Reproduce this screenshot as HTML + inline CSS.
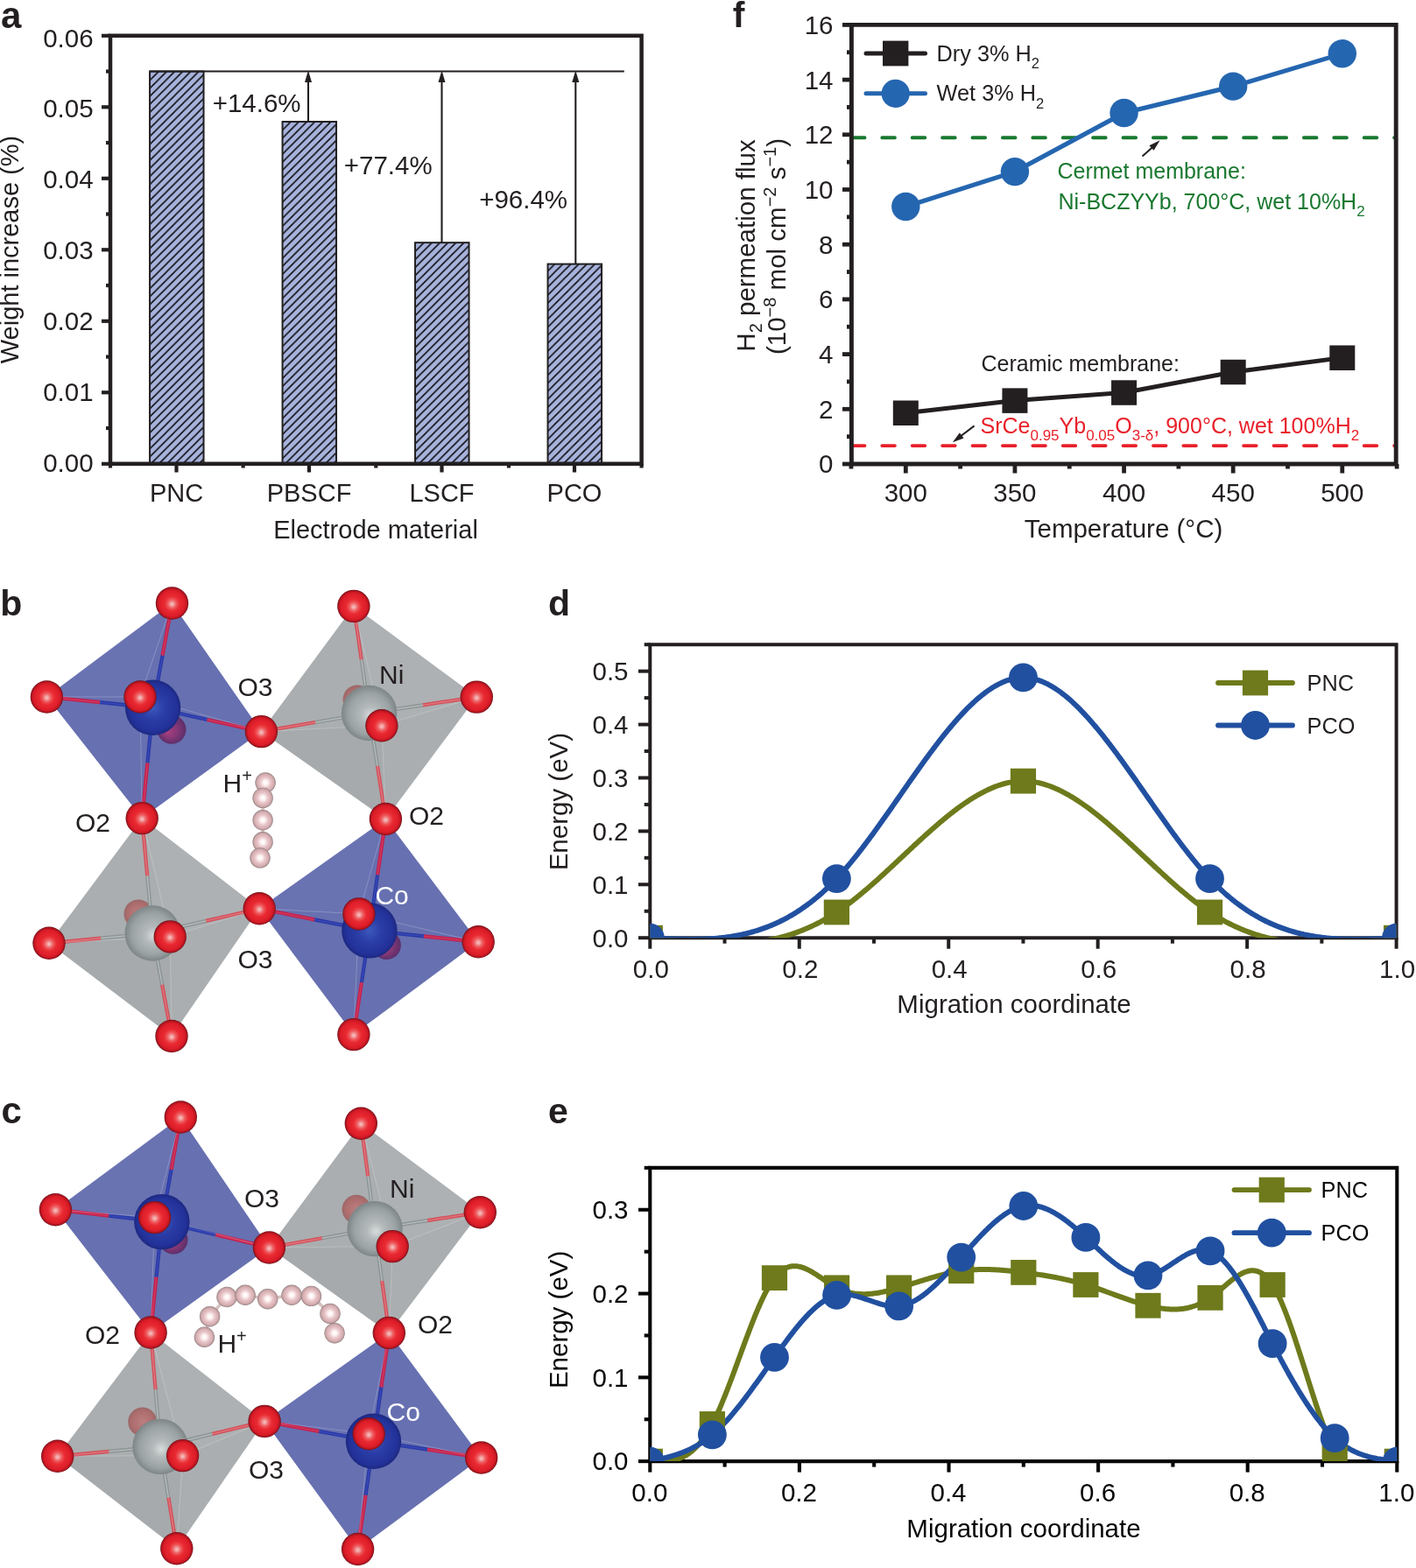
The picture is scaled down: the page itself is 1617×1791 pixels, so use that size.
<!DOCTYPE html><html><head><meta charset="utf-8"><style>html,body{margin:0;padding:0;background:#fff;}svg{display:block;}text{font-family:'Liberation Sans', Arial, Helvetica, sans-serif;}</style></head><body>
<svg width="1617" height="1791" viewBox="0 0 1617 1791">
<rect width="1617" height="1791" fill="#fff"/>
<defs>
<pattern id="hatch0" patternUnits="userSpaceOnUse" x="6.65" y="0" width="9.15" height="9.15"><rect width="9.15" height="9.15" fill="#a7b3dd"/><path d="M-2,11.15 L11.15,-2 M-2,2 L2,-2 M7.15,11.15 L11.15,7.15" stroke="#0a0a0a" stroke-width="1.5"/></pattern>
<pattern id="hatch1" patternUnits="userSpaceOnUse" x="4.50" y="0" width="9.15" height="9.15"><rect width="9.15" height="9.15" fill="#a7b3dd"/><path d="M-2,11.15 L11.15,-2 M-2,2 L2,-2 M7.15,11.15 L11.15,7.15" stroke="#0a0a0a" stroke-width="1.5"/></pattern>
<pattern id="hatch2" patternUnits="userSpaceOnUse" x="1.85" y="0" width="9.15" height="9.15"><rect width="9.15" height="9.15" fill="#a7b3dd"/><path d="M-2,11.15 L11.15,-2 M-2,2 L2,-2 M7.15,11.15 L11.15,7.15" stroke="#0a0a0a" stroke-width="1.5"/></pattern>
<pattern id="hatch3" patternUnits="userSpaceOnUse" x="1.85" y="0" width="9.15" height="9.15"><rect width="9.15" height="9.15" fill="#a7b3dd"/><path d="M-2,11.15 L11.15,-2 M-2,2 L2,-2 M7.15,11.15 L11.15,7.15" stroke="#0a0a0a" stroke-width="1.5"/></pattern>
<marker id="ah" markerWidth="10" markerHeight="14" refX="5" refY="1" orient="auto" markerUnits="userSpaceOnUse"><path d="M5,0 L9.5,13 L0.5,13 Z" fill="#231f20"/></marker>
</defs>
<rect x="171.05" y="81.55" width="61.50" height="448.25" fill="url(#hatch0)" stroke="#231f20" stroke-width="2.0"/>
<rect x="322.55" y="139.01" width="61.50" height="390.79" fill="url(#hatch1)" stroke="#231f20" stroke-width="2.0"/>
<rect x="474.05" y="277.15" width="61.50" height="252.65" fill="url(#hatch2)" stroke="#231f20" stroke-width="2.0"/>
<rect x="625.55" y="301.60" width="61.50" height="228.20" fill="url(#hatch3)" stroke="#231f20" stroke-width="2.0"/>
<line x1="171.00" y1="81.55" x2="712.80" y2="81.55" stroke="#231f20" stroke-width="2.0" />
<line x1="352.00" y1="139.01" x2="352.00" y2="92.55" stroke="#231f20" stroke-width="2.1" />
<path d="M352.00,80.55 L356.00,93.95 L348.00,93.95 Z" fill="#231f20"/>
<line x1="504.50" y1="277.15" x2="504.50" y2="92.55" stroke="#231f20" stroke-width="2.1" />
<path d="M504.50,80.55 L508.50,93.95 L500.50,93.95 Z" fill="#231f20"/>
<line x1="657.30" y1="301.60" x2="657.30" y2="92.55" stroke="#231f20" stroke-width="2.1" />
<path d="M657.30,80.55 L661.30,93.95 L653.30,93.95 Z" fill="#231f20"/>
<path d="M126.00,40.80 L126.00,529.80 L732.60,529.80 L732.60,40.80 Z" fill="none" stroke="#231f20" stroke-width="4.5" stroke-linejoin="miter"/>
<line x1="116.00" y1="529.80" x2="126.00" y2="529.80" stroke="#231f20" stroke-width="4.2" />
<text x="106.6" y="539.1" font-size="29.5" text-anchor="end" fill="#231f20" font-weight="normal" >0.00</text>
<line x1="116.00" y1="448.30" x2="126.00" y2="448.30" stroke="#231f20" stroke-width="4.2" />
<text x="106.6" y="458.2" font-size="29.5" text-anchor="end" fill="#231f20" font-weight="normal" >0.01</text>
<line x1="116.00" y1="366.80" x2="126.00" y2="366.80" stroke="#231f20" stroke-width="4.2" />
<text x="106.6" y="377.3" font-size="29.5" text-anchor="end" fill="#231f20" font-weight="normal" >0.02</text>
<line x1="116.00" y1="285.30" x2="126.00" y2="285.30" stroke="#231f20" stroke-width="4.2" />
<text x="106.6" y="296.3" font-size="29.5" text-anchor="end" fill="#231f20" font-weight="normal" >0.03</text>
<line x1="116.00" y1="203.80" x2="126.00" y2="203.80" stroke="#231f20" stroke-width="4.2" />
<text x="106.6" y="215.4" font-size="29.5" text-anchor="end" fill="#231f20" font-weight="normal" >0.04</text>
<line x1="116.00" y1="122.30" x2="126.00" y2="122.30" stroke="#231f20" stroke-width="4.2" />
<text x="106.6" y="134.4" font-size="29.5" text-anchor="end" fill="#231f20" font-weight="normal" >0.05</text>
<line x1="116.00" y1="40.80" x2="126.00" y2="40.80" stroke="#231f20" stroke-width="4.2" />
<text x="106.6" y="53.5" font-size="29.5" text-anchor="end" fill="#231f20" font-weight="normal" >0.06</text>
<line x1="121.00" y1="489.05" x2="126.00" y2="489.05" stroke="#231f20" stroke-width="4.2" />
<line x1="121.00" y1="407.55" x2="126.00" y2="407.55" stroke="#231f20" stroke-width="4.2" />
<line x1="121.00" y1="326.05" x2="126.00" y2="326.05" stroke="#231f20" stroke-width="4.2" />
<line x1="121.00" y1="244.55" x2="126.00" y2="244.55" stroke="#231f20" stroke-width="4.2" />
<line x1="121.00" y1="163.05" x2="126.00" y2="163.05" stroke="#231f20" stroke-width="4.2" />
<line x1="121.00" y1="81.55" x2="126.00" y2="81.55" stroke="#231f20" stroke-width="4.2" />
<line x1="201.50" y1="529.80" x2="201.50" y2="539.50" stroke="#231f20" stroke-width="4.2" />
<text x="201.5" y="572.6" font-size="29" text-anchor="middle" fill="#231f20" font-weight="normal" >PNC</text>
<line x1="353.00" y1="529.80" x2="353.00" y2="539.50" stroke="#231f20" stroke-width="4.2" />
<text x="353.0" y="572.6" font-size="29" text-anchor="middle" fill="#231f20" font-weight="normal" >PBSCF</text>
<line x1="504.50" y1="529.80" x2="504.50" y2="539.50" stroke="#231f20" stroke-width="4.2" />
<text x="504.5" y="572.6" font-size="29" text-anchor="middle" fill="#231f20" font-weight="normal" >LSCF</text>
<line x1="656.00" y1="529.80" x2="656.00" y2="539.50" stroke="#231f20" stroke-width="4.2" />
<text x="656.0" y="572.6" font-size="29" text-anchor="middle" fill="#231f20" font-weight="normal" >PCO</text>
<line x1="126.00" y1="529.80" x2="126.00" y2="534.50" stroke="#231f20" stroke-width="4.2" />
<line x1="277.65" y1="529.80" x2="277.65" y2="534.50" stroke="#231f20" stroke-width="4.2" />
<line x1="429.30" y1="529.80" x2="429.30" y2="534.50" stroke="#231f20" stroke-width="4.2" />
<line x1="580.95" y1="529.80" x2="580.95" y2="534.50" stroke="#231f20" stroke-width="4.2" />
<line x1="732.60" y1="529.80" x2="732.60" y2="534.50" stroke="#231f20" stroke-width="4.2" />
<text x="429.0" y="615.0" font-size="29" text-anchor="middle" fill="#231f20" font-weight="normal" >Electrode material</text>
<text x="1.0" y="31.8" font-size="42" text-anchor="start" fill="#231f20" font-weight="bold" >a</text>
<text transform="translate(21,285) rotate(-90)" font-size="29" text-anchor="middle" fill="#231f20">Weight increase (%)</text>
<text x="343.6" y="128.3" font-size="29.5" text-anchor="end" fill="#231f20" font-weight="normal" >+14.6%</text>
<text x="392.8" y="198.9" font-size="29.5" text-anchor="start" fill="#231f20" font-weight="normal" >+77.4%</text>
<text x="547.2" y="238.4" font-size="29.5" text-anchor="start" fill="#231f20" font-weight="normal" >+96.4%</text>
<line x1="972.9" y1="157.2" x2="1594.2" y2="157.2" stroke="#19782f" stroke-width="3.9" stroke-dasharray="14.6 19.8" stroke-linecap="round"/>
<line x1="972.9" y1="509.1" x2="1594.2" y2="509.1" stroke="#e8202a" stroke-width="3.8" stroke-dasharray="14.6 19.8" stroke-linecap="round"/>
<polyline points="1034.30,471.69 1158.92,457.58 1283.55,448.49 1408.17,424.98 1532.80,408.68" fill="none" stroke="#231f20" stroke-width="5.0"/>
<rect x="1019.80" y="457.49" width="29" height="28.5" fill="#231f20"/>
<rect x="1144.42" y="443.38" width="29" height="28.5" fill="#231f20"/>
<rect x="1269.05" y="434.29" width="29" height="28.5" fill="#231f20"/>
<rect x="1393.67" y="410.78" width="29" height="28.5" fill="#231f20"/>
<rect x="1518.30" y="394.48" width="29" height="28.5" fill="#231f20"/>
<polyline points="1034.30,235.94 1158.92,196.12 1283.55,129.03 1408.17,98.62 1532.80,61.32" fill="none" stroke="#2566b0" stroke-width="5.2"/>
<circle cx="1034.30" cy="235.94" r="16.2" fill="#2566b0"/>
<circle cx="1158.92" cy="196.12" r="16.2" fill="#2566b0"/>
<circle cx="1283.55" cy="129.03" r="16.2" fill="#2566b0"/>
<circle cx="1408.17" cy="98.62" r="16.2" fill="#2566b0"/>
<circle cx="1532.80" cy="61.32" r="16.2" fill="#2566b0"/>
<path d="M972.40,28.40 L972.40,530.00 L1594.20,530.00 L1594.20,28.40 Z" fill="none" stroke="#231f20" stroke-width="4.9"/>
<line x1="962.00" y1="530.00" x2="972.40" y2="530.00" stroke="#231f20" stroke-width="4.8" />
<text x="951.5" y="540.4" font-size="29.5" text-anchor="end" fill="#231f20" font-weight="normal" >0</text>
<line x1="962.00" y1="467.30" x2="972.40" y2="467.30" stroke="#231f20" stroke-width="4.8" />
<text x="951.5" y="477.7" font-size="29.5" text-anchor="end" fill="#231f20" font-weight="normal" >2</text>
<line x1="962.00" y1="404.60" x2="972.40" y2="404.60" stroke="#231f20" stroke-width="4.8" />
<text x="951.5" y="415.0" font-size="29.5" text-anchor="end" fill="#231f20" font-weight="normal" >4</text>
<line x1="962.00" y1="341.90" x2="972.40" y2="341.90" stroke="#231f20" stroke-width="4.8" />
<text x="951.5" y="352.3" font-size="29.5" text-anchor="end" fill="#231f20" font-weight="normal" >6</text>
<line x1="962.00" y1="279.20" x2="972.40" y2="279.20" stroke="#231f20" stroke-width="4.8" />
<text x="951.5" y="289.6" font-size="29.5" text-anchor="end" fill="#231f20" font-weight="normal" >8</text>
<line x1="962.00" y1="216.50" x2="972.40" y2="216.50" stroke="#231f20" stroke-width="4.8" />
<text x="951.5" y="226.9" font-size="29.5" text-anchor="end" fill="#231f20" font-weight="normal" >10</text>
<line x1="962.00" y1="153.80" x2="972.40" y2="153.80" stroke="#231f20" stroke-width="4.8" />
<text x="951.5" y="164.2" font-size="29.5" text-anchor="end" fill="#231f20" font-weight="normal" >12</text>
<line x1="962.00" y1="91.10" x2="972.40" y2="91.10" stroke="#231f20" stroke-width="4.8" />
<text x="951.5" y="101.5" font-size="29.5" text-anchor="end" fill="#231f20" font-weight="normal" >14</text>
<line x1="962.00" y1="28.40" x2="972.40" y2="28.40" stroke="#231f20" stroke-width="4.8" />
<text x="951.5" y="38.8" font-size="29.5" text-anchor="end" fill="#231f20" font-weight="normal" >16</text>
<line x1="967.00" y1="498.65" x2="972.40" y2="498.65" stroke="#231f20" stroke-width="4.8" />
<line x1="967.00" y1="435.95" x2="972.40" y2="435.95" stroke="#231f20" stroke-width="4.8" />
<line x1="967.00" y1="373.25" x2="972.40" y2="373.25" stroke="#231f20" stroke-width="4.8" />
<line x1="967.00" y1="310.55" x2="972.40" y2="310.55" stroke="#231f20" stroke-width="4.8" />
<line x1="967.00" y1="247.85" x2="972.40" y2="247.85" stroke="#231f20" stroke-width="4.8" />
<line x1="967.00" y1="185.15" x2="972.40" y2="185.15" stroke="#231f20" stroke-width="4.8" />
<line x1="967.00" y1="122.45" x2="972.40" y2="122.45" stroke="#231f20" stroke-width="4.8" />
<line x1="967.00" y1="59.75" x2="972.40" y2="59.75" stroke="#231f20" stroke-width="4.8" />
<line x1="1034.30" y1="530.00" x2="1034.30" y2="540.50" stroke="#231f20" stroke-width="4.8" />
<text x="1034.3" y="572.8" font-size="29.5" text-anchor="middle" fill="#231f20" font-weight="normal" >300</text>
<line x1="1158.92" y1="530.00" x2="1158.92" y2="540.50" stroke="#231f20" stroke-width="4.8" />
<text x="1158.9" y="572.8" font-size="29.5" text-anchor="middle" fill="#231f20" font-weight="normal" >350</text>
<line x1="1283.55" y1="530.00" x2="1283.55" y2="540.50" stroke="#231f20" stroke-width="4.8" />
<text x="1283.5" y="572.8" font-size="29.5" text-anchor="middle" fill="#231f20" font-weight="normal" >400</text>
<line x1="1408.17" y1="530.00" x2="1408.17" y2="540.50" stroke="#231f20" stroke-width="4.8" />
<text x="1408.2" y="572.8" font-size="29.5" text-anchor="middle" fill="#231f20" font-weight="normal" >450</text>
<line x1="1532.80" y1="530.00" x2="1532.80" y2="540.50" stroke="#231f20" stroke-width="4.8" />
<text x="1532.8" y="572.8" font-size="29.5" text-anchor="middle" fill="#231f20" font-weight="normal" >500</text>
<line x1="971.99" y1="530.00" x2="971.99" y2="535.50" stroke="#231f20" stroke-width="4.8" />
<line x1="1096.61" y1="530.00" x2="1096.61" y2="535.50" stroke="#231f20" stroke-width="4.8" />
<line x1="1221.24" y1="530.00" x2="1221.24" y2="535.50" stroke="#231f20" stroke-width="4.8" />
<line x1="1345.86" y1="530.00" x2="1345.86" y2="535.50" stroke="#231f20" stroke-width="4.8" />
<line x1="1470.49" y1="530.00" x2="1470.49" y2="535.50" stroke="#231f20" stroke-width="4.8" />
<line x1="1595.11" y1="530.00" x2="1595.11" y2="535.50" stroke="#231f20" stroke-width="4.8" />
<text x="1283.0" y="613.8" font-size="29.5" text-anchor="middle" fill="#231f20" font-weight="normal" >Temperature (°C)</text>
<text x="836.8" y="30.6" font-size="41" text-anchor="start" fill="#231f20" font-weight="bold" >f</text>
<text transform="translate(862,280.5) rotate(-90)" font-size="29.5" text-anchor="middle" fill="#231f20">H<tspan font-size="20" dy="8.2">2</tspan><tspan dy="-8.2"> permeation flux</tspan></text>
<text transform="translate(897,281.5) rotate(-90)" font-size="29.5" text-anchor="middle" fill="#231f20">(10<tspan font-size="20" dy="-11">−8</tspan><tspan dy="11"> mol cm</tspan><tspan font-size="20" dy="-11">−2</tspan><tspan dy="11"> s</tspan><tspan font-size="20" dy="-11">−1</tspan><tspan dy="11">)</tspan></text>
<line x1="989.00" y1="61.00" x2="1056.50" y2="61.00" stroke="#231f20" stroke-width="5.0" stroke-linecap="round"/>
<rect x="1008" y="46.6" width="29.4" height="28.8" fill="#231f20"/>
<line x1="989.00" y1="106.80" x2="1056.50" y2="106.80" stroke="#2566b0" stroke-width="5.0" stroke-linecap="round"/>
<circle cx="1022.7" cy="106.8" r="16.1" fill="#2566b0"/>
<text x="1069.6" y="69.5" font-size="25.3" text-anchor="start" fill="#231f20" font-weight="normal" >Dry 3% H<tspan font-size="16.5" dy="8.1">2</tspan></text>
<text x="1069.6" y="115.4" font-size="25.3" text-anchor="start" fill="#231f20" font-weight="normal" >Wet 3% H<tspan font-size="16.5" dy="8.1">2</tspan></text>
<text x="1207.5" y="204.0" font-size="25" text-anchor="start" fill="#19782f" font-weight="normal" >Cermet membrane:</text>
<text x="1208.5" y="238.6" font-size="25" text-anchor="start" fill="#19782f" font-weight="normal" >Ni-BCZYYb, 700°C, wet 10%H<tspan font-size="17" dy="8.5">2</tspan></text>
<line x1="1304.50" y1="178.60" x2="1316.00" y2="168.20" stroke="#231f20" stroke-width="2.0" />
<path d="M1324.6,160.2 L1317.6,171.8 L1312.4,166.2 Z" fill="#231f20"/>
<text x="1120.5" y="424.3" font-size="25" text-anchor="start" fill="#231f20" font-weight="normal" >Ceramic membrane:</text>
<text x="1119.5" y="494.8" font-size="25" text-anchor="start" fill="#e8202a" font-weight="normal" >SrCe<tspan font-size="17" dy="8.6">0.95</tspan><tspan dy="-8.6">Yb</tspan><tspan font-size="17" dy="8.6">0.05</tspan><tspan dy="-8.6">O</tspan><tspan font-size="17" dy="8.6">3-δ</tspan><tspan dy="-8.6">, 900°C, wet 100%H</tspan><tspan font-size="17" dy="8.6">2</tspan></text>
<line x1="1112.60" y1="486.40" x2="1097.00" y2="498.20" stroke="#231f20" stroke-width="2.0" />
<path d="M1087.8,505.2 L1100.5,500.4 L1095.9,494.3 Z" fill="#231f20"/>
<clipPath id="clipd"><rect x="742.30" y="736.20" width="852.30" height="335.00"/></clipPath>
<path d="M742.30,736.20 L742.30,1071.20 L1594.60,1071.20 L1594.60,736.20 Z" fill="none" stroke="#231f20" stroke-width="4.0"/>
<line x1="729.00" y1="1071.20" x2="742.30" y2="1071.20" stroke="#231f20" stroke-width="4.0" />
<text x="717.5" y="1081.5" font-size="29.5" text-anchor="end" fill="#231f20" font-weight="normal" >0.0</text>
<line x1="729.00" y1="1010.29" x2="742.30" y2="1010.29" stroke="#231f20" stroke-width="4.0" />
<text x="717.5" y="1020.6" font-size="29.5" text-anchor="end" fill="#231f20" font-weight="normal" >0.1</text>
<line x1="729.00" y1="949.38" x2="742.30" y2="949.38" stroke="#231f20" stroke-width="4.0" />
<text x="717.5" y="959.7" font-size="29.5" text-anchor="end" fill="#231f20" font-weight="normal" >0.2</text>
<line x1="729.00" y1="888.47" x2="742.30" y2="888.47" stroke="#231f20" stroke-width="4.0" />
<text x="717.5" y="898.8" font-size="29.5" text-anchor="end" fill="#231f20" font-weight="normal" >0.3</text>
<line x1="729.00" y1="827.56" x2="742.30" y2="827.56" stroke="#231f20" stroke-width="4.0" />
<text x="717.5" y="837.9" font-size="29.5" text-anchor="end" fill="#231f20" font-weight="normal" >0.4</text>
<line x1="729.00" y1="766.65" x2="742.30" y2="766.65" stroke="#231f20" stroke-width="4.0" />
<text x="717.5" y="777.0" font-size="29.5" text-anchor="end" fill="#231f20" font-weight="normal" >0.5</text>
<line x1="735.70" y1="1040.75" x2="742.30" y2="1040.75" stroke="#231f20" stroke-width="4.0" />
<line x1="735.70" y1="979.84" x2="742.30" y2="979.84" stroke="#231f20" stroke-width="4.0" />
<line x1="735.70" y1="918.93" x2="742.30" y2="918.93" stroke="#231f20" stroke-width="4.0" />
<line x1="735.70" y1="858.02" x2="742.30" y2="858.02" stroke="#231f20" stroke-width="4.0" />
<line x1="735.70" y1="797.11" x2="742.30" y2="797.11" stroke="#231f20" stroke-width="4.0" />
<line x1="735.70" y1="736.20" x2="742.30" y2="736.20" stroke="#231f20" stroke-width="4.0" />
<line x1="742.30" y1="1071.20" x2="742.30" y2="1083.70" stroke="#231f20" stroke-width="4.0" />
<text x="743.3" y="1116.5" font-size="29.5" text-anchor="middle" fill="#231f20" font-weight="normal" >0.0</text>
<line x1="912.76" y1="1071.20" x2="912.76" y2="1083.70" stroke="#231f20" stroke-width="4.0" />
<text x="913.8" y="1116.5" font-size="29.5" text-anchor="middle" fill="#231f20" font-weight="normal" >0.2</text>
<line x1="1083.22" y1="1071.20" x2="1083.22" y2="1083.70" stroke="#231f20" stroke-width="4.0" />
<text x="1084.2" y="1116.5" font-size="29.5" text-anchor="middle" fill="#231f20" font-weight="normal" >0.4</text>
<line x1="1253.68" y1="1071.20" x2="1253.68" y2="1083.70" stroke="#231f20" stroke-width="4.0" />
<text x="1254.7" y="1116.5" font-size="29.5" text-anchor="middle" fill="#231f20" font-weight="normal" >0.6</text>
<line x1="1424.14" y1="1071.20" x2="1424.14" y2="1083.70" stroke="#231f20" stroke-width="4.0" />
<text x="1425.1" y="1116.5" font-size="29.5" text-anchor="middle" fill="#231f20" font-weight="normal" >0.8</text>
<line x1="1594.60" y1="1071.20" x2="1594.60" y2="1083.70" stroke="#231f20" stroke-width="4.0" />
<text x="1595.6" y="1116.5" font-size="29.5" text-anchor="middle" fill="#231f20" font-weight="normal" >1.0</text>
<line x1="827.53" y1="1071.20" x2="827.53" y2="1077.70" stroke="#231f20" stroke-width="4.0" />
<line x1="997.99" y1="1071.20" x2="997.99" y2="1077.70" stroke="#231f20" stroke-width="4.0" />
<line x1="1168.45" y1="1071.20" x2="1168.45" y2="1077.70" stroke="#231f20" stroke-width="4.0" />
<line x1="1338.91" y1="1071.20" x2="1338.91" y2="1077.70" stroke="#231f20" stroke-width="4.0" />
<line x1="1509.37" y1="1071.20" x2="1509.37" y2="1077.70" stroke="#231f20" stroke-width="4.0" />
<g clip-path="url(#clipd)">
<path d="M742.30,1071.20 L743.72,1071.38 L745.15,1071.56 L746.57,1071.73 L747.99,1071.91 L749.41,1072.09 L750.84,1072.26 L752.26,1072.44 L753.68,1072.61 L755.11,1072.79 L756.53,1072.96 L757.95,1073.13 L759.37,1073.30 L760.80,1073.47 L762.22,1073.64 L763.64,1073.81 L765.07,1073.98 L766.49,1074.14 L767.91,1074.30 L769.33,1074.46 L770.76,1074.62 L772.18,1074.78 L773.60,1074.93 L775.03,1075.09 L776.45,1075.24 L777.87,1075.39 L779.29,1075.53 L780.72,1075.67 L782.14,1075.81 L783.56,1075.95 L784.99,1076.08 L786.41,1076.22 L787.83,1076.34 L789.25,1076.47 L790.68,1076.59 L792.10,1076.71 L793.52,1076.82 L794.95,1076.94 L796.37,1077.04 L797.79,1077.15 L799.21,1077.25 L800.64,1077.34 L802.06,1077.44 L803.48,1077.52 L804.91,1077.61 L806.33,1077.69 L807.75,1077.76 L809.17,1077.83 L810.60,1077.89 L812.02,1077.96 L813.44,1078.01 L814.87,1078.06 L816.29,1078.11 L817.71,1078.15 L819.14,1078.18 L820.56,1078.21 L821.98,1078.24 L823.40,1078.25 L824.83,1078.27 L826.25,1078.27 L827.67,1078.28 L829.10,1078.27 L830.52,1078.26 L831.94,1078.24 L833.36,1078.22 L834.79,1078.19 L836.21,1078.15 L837.63,1078.11 L839.06,1078.06 L840.48,1078.00 L841.90,1077.94 L843.32,1077.87 L844.75,1077.79 L846.17,1077.71 L847.59,1077.62 L849.02,1077.52 L850.44,1077.41 L851.86,1077.30 L853.28,1077.17 L854.71,1077.04 L856.13,1076.91 L857.55,1076.76 L858.98,1076.61 L860.40,1076.45 L861.82,1076.28 L863.24,1076.10 L864.67,1075.91 L866.09,1075.71 L867.51,1075.51 L868.94,1075.30 L870.36,1075.08 L871.78,1074.84 L873.20,1074.60 L874.63,1074.36 L876.05,1074.10 L877.47,1073.83 L878.90,1073.55 L880.32,1073.26 L881.74,1072.97 L883.16,1072.66 L884.59,1072.35 L886.01,1072.02 L887.43,1071.68 L888.86,1071.34 L890.28,1070.98 L891.70,1070.61 L893.12,1070.23 L894.55,1069.85 L895.97,1069.45 L897.39,1069.04 L898.82,1068.62 L900.24,1068.19 L901.66,1067.74 L903.08,1067.29 L904.51,1066.82 L905.93,1066.35 L907.35,1065.86 L908.78,1065.36 L910.20,1064.85 L911.62,1064.33 L913.04,1063.79 L914.47,1063.24 L915.89,1062.69 L917.31,1062.11 L918.74,1061.53 L920.16,1060.94 L921.58,1060.33 L923.00,1059.71 L924.43,1059.07 L925.85,1058.43 L927.27,1057.77 L928.70,1057.10 L930.12,1056.41 L931.54,1055.71 L932.96,1055.00 L934.39,1054.28 L935.81,1053.54 L937.23,1052.78 L938.66,1052.02 L940.08,1051.24 L941.50,1050.45 L942.92,1049.64 L944.35,1048.82 L945.77,1047.98 L947.19,1047.13 L948.62,1046.27 L950.04,1045.39 L951.46,1044.50 L952.88,1043.59 L954.31,1042.67 L955.73,1041.73 L957.15,1040.78 L958.58,1039.81 L960.00,1038.83 L961.42,1037.83 L962.85,1036.82 L964.27,1035.80 L965.69,1034.76 L967.11,1033.72 L968.54,1032.65 L969.96,1031.58 L971.38,1030.50 L972.81,1029.40 L974.23,1028.29 L975.65,1027.17 L977.07,1026.04 L978.50,1024.90 L979.92,1023.74 L981.34,1022.58 L982.77,1021.41 L984.19,1020.23 L985.61,1019.04 L987.03,1017.84 L988.46,1016.63 L989.88,1015.42 L991.30,1014.19 L992.73,1012.96 L994.15,1011.72 L995.57,1010.47 L996.99,1009.22 L998.42,1007.96 L999.84,1006.69 L1001.26,1005.42 L1002.69,1004.14 L1004.11,1002.86 L1005.53,1001.57 L1006.95,1000.27 L1008.38,998.97 L1009.80,997.67 L1011.22,996.36 L1012.65,995.05 L1014.07,993.74 L1015.49,992.42 L1016.91,991.10 L1018.34,989.77 L1019.76,988.45 L1021.18,987.12 L1022.61,985.79 L1024.03,984.46 L1025.45,983.12 L1026.87,981.79 L1028.30,980.45 L1029.72,979.12 L1031.14,977.78 L1032.57,976.45 L1033.99,975.11 L1035.41,973.78 L1036.83,972.45 L1038.26,971.12 L1039.68,969.79 L1041.10,968.46 L1042.53,967.13 L1043.95,965.81 L1045.37,964.49 L1046.79,963.17 L1048.22,961.86 L1049.64,960.54 L1051.06,959.24 L1052.49,957.93 L1053.91,956.64 L1055.33,955.34 L1056.75,954.05 L1058.18,952.77 L1059.60,951.49 L1061.02,950.22 L1062.45,948.95 L1063.87,947.69 L1065.29,946.44 L1066.71,945.19 L1068.14,943.95 L1069.56,942.72 L1070.98,941.50 L1072.41,940.28 L1073.83,939.07 L1075.25,937.88 L1076.67,936.69 L1078.10,935.51 L1079.52,934.34 L1080.94,933.17 L1082.37,932.02 L1083.79,930.88 L1085.21,929.75 L1086.63,928.63 L1088.06,927.53 L1089.48,926.43 L1090.90,925.34 L1092.33,924.27 L1093.75,923.21 L1095.17,922.16 L1096.59,921.13 L1098.02,920.11 L1099.44,919.10 L1100.86,918.11 L1102.29,917.13 L1103.71,916.16 L1105.13,915.21 L1106.56,914.27 L1107.98,913.35 L1109.40,912.45 L1110.82,911.56 L1112.25,910.68 L1113.67,909.82 L1115.09,908.98 L1116.52,908.16 L1117.94,907.35 L1119.36,906.56 L1120.78,905.79 L1122.21,905.04 L1123.63,904.30 L1125.05,903.59 L1126.48,902.89 L1127.90,902.21 L1129.32,901.55 L1130.74,900.91 L1132.17,900.29 L1133.59,899.69 L1135.01,899.11 L1136.44,898.55 L1137.86,898.02 L1139.28,897.50 L1140.70,897.01 L1142.13,896.54 L1143.55,896.09 L1144.97,895.66 L1146.40,895.26 L1147.82,894.88 L1149.24,894.52 L1150.66,894.18 L1152.09,893.88 L1153.51,893.59 L1154.93,893.33 L1156.36,893.09 L1157.78,892.88 L1159.20,892.70 L1160.62,892.54 L1162.05,892.40 L1163.47,892.29 L1164.89,892.21 L1166.32,892.16 L1167.74,892.13 L1169.16,892.13 L1170.58,892.16 L1172.01,892.21 L1173.43,892.29 L1174.85,892.40 L1176.28,892.54 L1177.70,892.70 L1179.12,892.88 L1180.54,893.09 L1181.97,893.33 L1183.39,893.59 L1184.81,893.88 L1186.24,894.18 L1187.66,894.52 L1189.08,894.88 L1190.50,895.26 L1191.93,895.66 L1193.35,896.09 L1194.77,896.54 L1196.20,897.01 L1197.62,897.50 L1199.04,898.02 L1200.46,898.55 L1201.89,899.11 L1203.31,899.69 L1204.73,900.29 L1206.16,900.91 L1207.58,901.55 L1209.00,902.21 L1210.42,902.89 L1211.85,903.59 L1213.27,904.30 L1214.69,905.04 L1216.12,905.79 L1217.54,906.56 L1218.96,907.35 L1220.38,908.16 L1221.81,908.98 L1223.23,909.82 L1224.65,910.68 L1226.08,911.56 L1227.50,912.45 L1228.92,913.35 L1230.34,914.27 L1231.77,915.21 L1233.19,916.16 L1234.61,917.13 L1236.04,918.11 L1237.46,919.10 L1238.88,920.11 L1240.31,921.13 L1241.73,922.16 L1243.15,923.21 L1244.57,924.27 L1246.00,925.34 L1247.42,926.43 L1248.84,927.53 L1250.27,928.63 L1251.69,929.75 L1253.11,930.88 L1254.53,932.02 L1255.96,933.17 L1257.38,934.34 L1258.80,935.51 L1260.23,936.69 L1261.65,937.88 L1263.07,939.07 L1264.49,940.28 L1265.92,941.50 L1267.34,942.72 L1268.76,943.95 L1270.19,945.19 L1271.61,946.44 L1273.03,947.69 L1274.45,948.95 L1275.88,950.22 L1277.30,951.49 L1278.72,952.77 L1280.15,954.05 L1281.57,955.34 L1282.99,956.64 L1284.41,957.93 L1285.84,959.24 L1287.26,960.54 L1288.68,961.86 L1290.11,963.17 L1291.53,964.49 L1292.95,965.81 L1294.37,967.13 L1295.80,968.46 L1297.22,969.79 L1298.64,971.12 L1300.07,972.45 L1301.49,973.78 L1302.91,975.11 L1304.33,976.45 L1305.76,977.78 L1307.18,979.12 L1308.60,980.45 L1310.03,981.79 L1311.45,983.12 L1312.87,984.46 L1314.29,985.79 L1315.72,987.12 L1317.14,988.45 L1318.56,989.77 L1319.99,991.10 L1321.41,992.42 L1322.83,993.74 L1324.25,995.05 L1325.68,996.36 L1327.10,997.67 L1328.52,998.97 L1329.95,1000.27 L1331.37,1001.57 L1332.79,1002.86 L1334.21,1004.14 L1335.64,1005.42 L1337.06,1006.69 L1338.48,1007.96 L1339.91,1009.22 L1341.33,1010.47 L1342.75,1011.72 L1344.17,1012.96 L1345.60,1014.19 L1347.02,1015.42 L1348.44,1016.63 L1349.87,1017.84 L1351.29,1019.04 L1352.71,1020.23 L1354.13,1021.41 L1355.56,1022.58 L1356.98,1023.74 L1358.40,1024.90 L1359.83,1026.04 L1361.25,1027.17 L1362.67,1028.29 L1364.09,1029.40 L1365.52,1030.50 L1366.94,1031.58 L1368.36,1032.65 L1369.79,1033.72 L1371.21,1034.76 L1372.63,1035.80 L1374.05,1036.82 L1375.48,1037.83 L1376.90,1038.83 L1378.32,1039.81 L1379.75,1040.78 L1381.17,1041.73 L1382.59,1042.67 L1384.02,1043.59 L1385.44,1044.50 L1386.86,1045.39 L1388.28,1046.27 L1389.71,1047.13 L1391.13,1047.98 L1392.55,1048.82 L1393.98,1049.64 L1395.40,1050.45 L1396.82,1051.24 L1398.24,1052.02 L1399.67,1052.78 L1401.09,1053.54 L1402.51,1054.28 L1403.94,1055.00 L1405.36,1055.71 L1406.78,1056.41 L1408.20,1057.10 L1409.63,1057.77 L1411.05,1058.43 L1412.47,1059.07 L1413.90,1059.71 L1415.32,1060.33 L1416.74,1060.94 L1418.16,1061.53 L1419.59,1062.11 L1421.01,1062.69 L1422.43,1063.24 L1423.86,1063.79 L1425.28,1064.33 L1426.70,1064.85 L1428.12,1065.36 L1429.55,1065.86 L1430.97,1066.35 L1432.39,1066.82 L1433.82,1067.29 L1435.24,1067.74 L1436.66,1068.19 L1438.08,1068.62 L1439.51,1069.04 L1440.93,1069.45 L1442.35,1069.85 L1443.78,1070.23 L1445.20,1070.61 L1446.62,1070.98 L1448.04,1071.34 L1449.47,1071.68 L1450.89,1072.02 L1452.31,1072.35 L1453.74,1072.66 L1455.16,1072.97 L1456.58,1073.26 L1458.00,1073.55 L1459.43,1073.83 L1460.85,1074.10 L1462.27,1074.36 L1463.70,1074.60 L1465.12,1074.84 L1466.54,1075.08 L1467.96,1075.30 L1469.39,1075.51 L1470.81,1075.71 L1472.23,1075.91 L1473.66,1076.10 L1475.08,1076.28 L1476.50,1076.45 L1477.92,1076.61 L1479.35,1076.76 L1480.77,1076.91 L1482.19,1077.04 L1483.62,1077.17 L1485.04,1077.30 L1486.46,1077.41 L1487.88,1077.52 L1489.31,1077.62 L1490.73,1077.71 L1492.15,1077.79 L1493.58,1077.87 L1495.00,1077.94 L1496.42,1078.00 L1497.84,1078.06 L1499.27,1078.11 L1500.69,1078.15 L1502.11,1078.19 L1503.54,1078.22 L1504.96,1078.24 L1506.38,1078.26 L1507.80,1078.27 L1509.23,1078.28 L1510.65,1078.27 L1512.07,1078.27 L1513.50,1078.25 L1514.92,1078.24 L1516.34,1078.21 L1517.76,1078.18 L1519.19,1078.15 L1520.61,1078.11 L1522.03,1078.06 L1523.46,1078.01 L1524.88,1077.96 L1526.30,1077.89 L1527.73,1077.83 L1529.15,1077.76 L1530.57,1077.69 L1531.99,1077.61 L1533.42,1077.52 L1534.84,1077.44 L1536.26,1077.34 L1537.69,1077.25 L1539.11,1077.15 L1540.53,1077.04 L1541.95,1076.94 L1543.38,1076.82 L1544.80,1076.71 L1546.22,1076.59 L1547.65,1076.47 L1549.07,1076.34 L1550.49,1076.22 L1551.91,1076.08 L1553.34,1075.95 L1554.76,1075.81 L1556.18,1075.67 L1557.61,1075.53 L1559.03,1075.39 L1560.45,1075.24 L1561.87,1075.09 L1563.30,1074.93 L1564.72,1074.78 L1566.14,1074.62 L1567.57,1074.46 L1568.99,1074.30 L1570.41,1074.14 L1571.83,1073.98 L1573.26,1073.81 L1574.68,1073.64 L1576.10,1073.47 L1577.53,1073.30 L1578.95,1073.13 L1580.37,1072.96 L1581.79,1072.79 L1583.22,1072.61 L1584.64,1072.44 L1586.06,1072.26 L1587.49,1072.09 L1588.91,1071.91 L1590.33,1071.73 L1591.75,1071.56 L1593.18,1071.38 L1594.60,1071.20" fill="none" stroke="#6e7a1b" stroke-width="6.0" stroke-linejoin="round"/>
<path d="M742.30,1071.20 L743.72,1071.28 L745.15,1071.35 L746.57,1071.43 L747.99,1071.51 L749.41,1071.58 L750.84,1071.66 L752.26,1071.73 L753.68,1071.80 L755.11,1071.87 L756.53,1071.94 L757.95,1072.01 L759.37,1072.08 L760.80,1072.15 L762.22,1072.21 L763.64,1072.27 L765.07,1072.33 L766.49,1072.39 L767.91,1072.44 L769.33,1072.50 L770.76,1072.55 L772.18,1072.59 L773.60,1072.64 L775.03,1072.68 L776.45,1072.72 L777.87,1072.75 L779.29,1072.78 L780.72,1072.81 L782.14,1072.83 L783.56,1072.85 L784.99,1072.87 L786.41,1072.88 L787.83,1072.88 L789.25,1072.88 L790.68,1072.88 L792.10,1072.87 L793.52,1072.86 L794.95,1072.84 L796.37,1072.82 L797.79,1072.79 L799.21,1072.76 L800.64,1072.72 L802.06,1072.68 L803.48,1072.63 L804.91,1072.57 L806.33,1072.51 L807.75,1072.44 L809.17,1072.36 L810.60,1072.28 L812.02,1072.19 L813.44,1072.09 L814.87,1071.99 L816.29,1071.88 L817.71,1071.76 L819.14,1071.63 L820.56,1071.50 L821.98,1071.36 L823.40,1071.21 L824.83,1071.05 L826.25,1070.89 L827.67,1070.71 L829.10,1070.53 L830.52,1070.34 L831.94,1070.14 L833.36,1069.93 L834.79,1069.72 L836.21,1069.49 L837.63,1069.25 L839.06,1069.01 L840.48,1068.75 L841.90,1068.49 L843.32,1068.22 L844.75,1067.93 L846.17,1067.64 L847.59,1067.33 L849.02,1067.02 L850.44,1066.69 L851.86,1066.35 L853.28,1066.01 L854.71,1065.65 L856.13,1065.28 L857.55,1064.90 L858.98,1064.50 L860.40,1064.10 L861.82,1063.68 L863.24,1063.25 L864.67,1062.82 L866.09,1062.36 L867.51,1061.90 L868.94,1061.42 L870.36,1060.93 L871.78,1060.43 L873.20,1059.92 L874.63,1059.39 L876.05,1058.85 L877.47,1058.29 L878.90,1057.72 L880.32,1057.14 L881.74,1056.55 L883.16,1055.94 L884.59,1055.32 L886.01,1054.68 L887.43,1054.03 L888.86,1053.36 L890.28,1052.68 L891.70,1051.99 L893.12,1051.28 L894.55,1050.55 L895.97,1049.81 L897.39,1049.06 L898.82,1048.29 L900.24,1047.50 L901.66,1046.70 L903.08,1045.88 L904.51,1045.05 L905.93,1044.20 L907.35,1043.33 L908.78,1042.45 L910.20,1041.55 L911.62,1040.64 L913.04,1039.70 L914.47,1038.75 L915.89,1037.79 L917.31,1036.80 L918.74,1035.80 L920.16,1034.79 L921.58,1033.75 L923.00,1032.70 L924.43,1031.62 L925.85,1030.53 L927.27,1029.42 L928.70,1028.30 L930.12,1027.15 L931.54,1025.99 L932.96,1024.81 L934.39,1023.61 L935.81,1022.38 L937.23,1021.14 L938.66,1019.89 L940.08,1018.61 L941.50,1017.31 L942.92,1015.99 L944.35,1014.65 L945.77,1013.29 L947.19,1011.92 L948.62,1010.52 L950.04,1009.10 L951.46,1007.66 L952.88,1006.20 L954.31,1004.72 L955.73,1003.21 L957.15,1001.69 L958.58,1000.15 L960.00,998.58 L961.42,997.00 L962.85,995.39 L964.27,993.77 L965.69,992.13 L967.11,990.47 L968.54,988.79 L969.96,987.10 L971.38,985.39 L972.81,983.66 L974.23,981.92 L975.65,980.16 L977.07,978.38 L978.50,976.59 L979.92,974.79 L981.34,972.97 L982.77,971.14 L984.19,969.30 L985.61,967.44 L987.03,965.57 L988.46,963.69 L989.88,961.79 L991.30,959.89 L992.73,957.98 L994.15,956.05 L995.57,954.12 L996.99,952.17 L998.42,950.22 L999.84,948.26 L1001.26,946.29 L1002.69,944.31 L1004.11,942.33 L1005.53,940.34 L1006.95,938.34 L1008.38,936.34 L1009.80,934.33 L1011.22,932.31 L1012.65,930.29 L1014.07,928.27 L1015.49,926.24 L1016.91,924.21 L1018.34,922.17 L1019.76,920.14 L1021.18,918.10 L1022.61,916.06 L1024.03,914.01 L1025.45,911.97 L1026.87,909.92 L1028.30,907.88 L1029.72,905.84 L1031.14,903.79 L1032.57,901.75 L1033.99,899.71 L1035.41,897.67 L1036.83,895.63 L1038.26,893.60 L1039.68,891.57 L1041.10,889.54 L1042.53,887.51 L1043.95,885.49 L1045.37,883.48 L1046.79,881.47 L1048.22,879.47 L1049.64,877.47 L1051.06,875.48 L1052.49,873.49 L1053.91,871.52 L1055.33,869.55 L1056.75,867.59 L1058.18,865.63 L1059.60,863.69 L1061.02,861.76 L1062.45,859.83 L1063.87,857.92 L1065.29,856.01 L1066.71,854.12 L1068.14,852.24 L1069.56,850.37 L1070.98,848.51 L1072.41,846.67 L1073.83,844.84 L1075.25,843.02 L1076.67,841.22 L1078.10,839.43 L1079.52,837.66 L1080.94,835.90 L1082.37,834.15 L1083.79,832.43 L1085.21,830.72 L1086.63,829.02 L1088.06,827.35 L1089.48,825.69 L1090.90,824.05 L1092.33,822.42 L1093.75,820.82 L1095.17,819.24 L1096.59,817.67 L1098.02,816.13 L1099.44,814.61 L1100.86,813.11 L1102.29,811.62 L1103.71,810.17 L1105.13,808.73 L1106.56,807.32 L1107.98,805.93 L1109.40,804.56 L1110.82,803.22 L1112.25,801.90 L1113.67,800.61 L1115.09,799.34 L1116.52,798.09 L1117.94,796.88 L1119.36,795.69 L1120.78,794.52 L1122.21,793.39 L1123.63,792.28 L1125.05,791.20 L1126.48,790.15 L1127.90,789.13 L1129.32,788.13 L1130.74,787.17 L1132.17,786.24 L1133.59,785.34 L1135.01,784.47 L1136.44,783.63 L1137.86,782.82 L1139.28,782.04 L1140.70,781.30 L1142.13,780.59 L1143.55,779.92 L1144.97,779.27 L1146.40,778.67 L1147.82,778.09 L1149.24,777.56 L1150.66,777.05 L1152.09,776.59 L1153.51,776.16 L1154.93,775.77 L1156.36,775.41 L1157.78,775.10 L1159.20,774.82 L1160.62,774.58 L1162.05,774.38 L1163.47,774.21 L1164.89,774.09 L1166.32,774.01 L1167.74,773.97 L1169.16,773.97 L1170.58,774.01 L1172.01,774.09 L1173.43,774.21 L1174.85,774.38 L1176.28,774.58 L1177.70,774.82 L1179.12,775.10 L1180.54,775.41 L1181.97,775.77 L1183.39,776.16 L1184.81,776.59 L1186.24,777.05 L1187.66,777.56 L1189.08,778.09 L1190.50,778.67 L1191.93,779.27 L1193.35,779.92 L1194.77,780.59 L1196.20,781.30 L1197.62,782.04 L1199.04,782.82 L1200.46,783.63 L1201.89,784.47 L1203.31,785.34 L1204.73,786.24 L1206.16,787.17 L1207.58,788.13 L1209.00,789.13 L1210.42,790.15 L1211.85,791.20 L1213.27,792.28 L1214.69,793.39 L1216.12,794.52 L1217.54,795.69 L1218.96,796.88 L1220.38,798.09 L1221.81,799.34 L1223.23,800.61 L1224.65,801.90 L1226.08,803.22 L1227.50,804.56 L1228.92,805.93 L1230.34,807.32 L1231.77,808.73 L1233.19,810.17 L1234.61,811.62 L1236.04,813.11 L1237.46,814.61 L1238.88,816.13 L1240.31,817.67 L1241.73,819.24 L1243.15,820.82 L1244.57,822.42 L1246.00,824.05 L1247.42,825.69 L1248.84,827.35 L1250.27,829.02 L1251.69,830.72 L1253.11,832.43 L1254.53,834.15 L1255.96,835.90 L1257.38,837.66 L1258.80,839.43 L1260.23,841.22 L1261.65,843.02 L1263.07,844.84 L1264.49,846.67 L1265.92,848.51 L1267.34,850.37 L1268.76,852.24 L1270.19,854.12 L1271.61,856.01 L1273.03,857.92 L1274.45,859.83 L1275.88,861.76 L1277.30,863.69 L1278.72,865.63 L1280.15,867.59 L1281.57,869.55 L1282.99,871.52 L1284.41,873.49 L1285.84,875.48 L1287.26,877.47 L1288.68,879.47 L1290.11,881.47 L1291.53,883.48 L1292.95,885.49 L1294.37,887.51 L1295.80,889.54 L1297.22,891.57 L1298.64,893.60 L1300.07,895.63 L1301.49,897.67 L1302.91,899.71 L1304.33,901.75 L1305.76,903.79 L1307.18,905.84 L1308.60,907.88 L1310.03,909.92 L1311.45,911.97 L1312.87,914.01 L1314.29,916.06 L1315.72,918.10 L1317.14,920.14 L1318.56,922.17 L1319.99,924.21 L1321.41,926.24 L1322.83,928.27 L1324.25,930.29 L1325.68,932.31 L1327.10,934.33 L1328.52,936.34 L1329.95,938.34 L1331.37,940.34 L1332.79,942.33 L1334.21,944.31 L1335.64,946.29 L1337.06,948.26 L1338.48,950.22 L1339.91,952.17 L1341.33,954.12 L1342.75,956.05 L1344.17,957.98 L1345.60,959.89 L1347.02,961.79 L1348.44,963.69 L1349.87,965.57 L1351.29,967.44 L1352.71,969.30 L1354.13,971.14 L1355.56,972.97 L1356.98,974.79 L1358.40,976.59 L1359.83,978.38 L1361.25,980.16 L1362.67,981.92 L1364.09,983.66 L1365.52,985.39 L1366.94,987.10 L1368.36,988.79 L1369.79,990.47 L1371.21,992.13 L1372.63,993.77 L1374.05,995.39 L1375.48,997.00 L1376.90,998.58 L1378.32,1000.15 L1379.75,1001.69 L1381.17,1003.21 L1382.59,1004.72 L1384.02,1006.20 L1385.44,1007.66 L1386.86,1009.10 L1388.28,1010.52 L1389.71,1011.92 L1391.13,1013.29 L1392.55,1014.65 L1393.98,1015.99 L1395.40,1017.31 L1396.82,1018.61 L1398.24,1019.89 L1399.67,1021.14 L1401.09,1022.38 L1402.51,1023.61 L1403.94,1024.81 L1405.36,1025.99 L1406.78,1027.15 L1408.20,1028.30 L1409.63,1029.42 L1411.05,1030.53 L1412.47,1031.62 L1413.90,1032.70 L1415.32,1033.75 L1416.74,1034.79 L1418.16,1035.80 L1419.59,1036.80 L1421.01,1037.79 L1422.43,1038.75 L1423.86,1039.70 L1425.28,1040.64 L1426.70,1041.55 L1428.12,1042.45 L1429.55,1043.33 L1430.97,1044.20 L1432.39,1045.05 L1433.82,1045.88 L1435.24,1046.70 L1436.66,1047.50 L1438.08,1048.29 L1439.51,1049.06 L1440.93,1049.81 L1442.35,1050.55 L1443.78,1051.28 L1445.20,1051.99 L1446.62,1052.68 L1448.04,1053.36 L1449.47,1054.03 L1450.89,1054.68 L1452.31,1055.32 L1453.74,1055.94 L1455.16,1056.55 L1456.58,1057.14 L1458.00,1057.72 L1459.43,1058.29 L1460.85,1058.85 L1462.27,1059.39 L1463.70,1059.92 L1465.12,1060.43 L1466.54,1060.93 L1467.96,1061.42 L1469.39,1061.90 L1470.81,1062.36 L1472.23,1062.82 L1473.66,1063.25 L1475.08,1063.68 L1476.50,1064.10 L1477.92,1064.50 L1479.35,1064.90 L1480.77,1065.28 L1482.19,1065.65 L1483.62,1066.01 L1485.04,1066.35 L1486.46,1066.69 L1487.88,1067.02 L1489.31,1067.33 L1490.73,1067.64 L1492.15,1067.93 L1493.58,1068.22 L1495.00,1068.49 L1496.42,1068.75 L1497.84,1069.01 L1499.27,1069.25 L1500.69,1069.49 L1502.11,1069.72 L1503.54,1069.93 L1504.96,1070.14 L1506.38,1070.34 L1507.80,1070.53 L1509.23,1070.71 L1510.65,1070.89 L1512.07,1071.05 L1513.50,1071.21 L1514.92,1071.36 L1516.34,1071.50 L1517.76,1071.63 L1519.19,1071.76 L1520.61,1071.88 L1522.03,1071.99 L1523.46,1072.09 L1524.88,1072.19 L1526.30,1072.28 L1527.73,1072.36 L1529.15,1072.44 L1530.57,1072.51 L1531.99,1072.57 L1533.42,1072.63 L1534.84,1072.68 L1536.26,1072.72 L1537.69,1072.76 L1539.11,1072.79 L1540.53,1072.82 L1541.95,1072.84 L1543.38,1072.86 L1544.80,1072.87 L1546.22,1072.88 L1547.65,1072.88 L1549.07,1072.88 L1550.49,1072.88 L1551.91,1072.87 L1553.34,1072.85 L1554.76,1072.83 L1556.18,1072.81 L1557.61,1072.78 L1559.03,1072.75 L1560.45,1072.72 L1561.87,1072.68 L1563.30,1072.64 L1564.72,1072.59 L1566.14,1072.55 L1567.57,1072.50 L1568.99,1072.44 L1570.41,1072.39 L1571.83,1072.33 L1573.26,1072.27 L1574.68,1072.21 L1576.10,1072.15 L1577.53,1072.08 L1578.95,1072.01 L1580.37,1071.94 L1581.79,1071.87 L1583.22,1071.80 L1584.64,1071.73 L1586.06,1071.66 L1587.49,1071.58 L1588.91,1071.51 L1590.33,1071.43 L1591.75,1071.35 L1593.18,1071.28 L1594.60,1071.20" fill="none" stroke="#2150a0" stroke-width="6.0" stroke-linejoin="round"/>
<rect x="727.70" y="1056.80" width="29.2" height="28.8" fill="#6e7a1b"/>
<rect x="940.77" y="1027.56" width="29.2" height="28.8" fill="#6e7a1b"/>
<rect x="1153.85" y="877.73" width="29.2" height="28.8" fill="#6e7a1b"/>
<rect x="1366.92" y="1027.56" width="29.2" height="28.8" fill="#6e7a1b"/>
<rect x="1580.00" y="1056.80" width="29.2" height="28.8" fill="#6e7a1b"/>
<circle cx="742.30" cy="1071.20" r="16.4" fill="#2150a0"/>
<circle cx="955.38" cy="1003.59" r="16.4" fill="#2150a0"/>
<circle cx="1168.45" cy="773.96" r="16.4" fill="#2150a0"/>
<circle cx="1381.52" cy="1003.59" r="16.4" fill="#2150a0"/>
<circle cx="1594.60" cy="1071.20" r="16.4" fill="#2150a0"/>
</g>
<line x1="1391.00" y1="780.00" x2="1476.00" y2="780.00" stroke="#6e7a1b" stroke-width="5.8" stroke-linecap="round"/>
<rect x="1418.90" y="765.60" width="29.2" height="28.8" fill="#6e7a1b"/>
<line x1="1391.00" y1="828.50" x2="1476.00" y2="828.50" stroke="#2150a0" stroke-width="5.8" stroke-linecap="round"/>
<circle cx="1433.50" cy="828.50" r="16.4" fill="#2150a0"/>
<text x="1492.6" y="788.9" font-size="25.3" text-anchor="start" fill="#231f20" font-weight="normal" >PNC</text>
<text x="1492.6" y="837.6" font-size="25.3" text-anchor="start" fill="#231f20" font-weight="normal" >PCO</text>
<text transform="translate(648,915.6) rotate(-90)" font-size="29.5" text-anchor="middle" fill="#231f20">Energy (eV)</text>
<text x="1158.0" y="1157.0" font-size="29.5" text-anchor="middle" fill="#231f20" font-weight="normal" >Migration coordinate</text>
<text x="626.0" y="702.8" font-size="41" text-anchor="start" fill="#231f20" font-weight="bold" >d</text>
<clipPath id="clipe"><rect x="742.30" y="1333.90" width="853.00" height="335.20"/></clipPath>
<path d="M742.30,1333.90 L742.30,1669.10 L1595.30,1669.10 L1595.30,1333.90 Z" fill="none" stroke="#060606" stroke-width="4.1"/>
<line x1="729.00" y1="1669.10" x2="742.30" y2="1669.10" stroke="#060606" stroke-width="4.1" />
<text x="717.5" y="1679.4" font-size="29.5" text-anchor="end" fill="#060606" font-weight="normal" >0.0</text>
<line x1="729.00" y1="1573.33" x2="742.30" y2="1573.33" stroke="#060606" stroke-width="4.1" />
<text x="717.5" y="1583.6" font-size="29.5" text-anchor="end" fill="#060606" font-weight="normal" >0.1</text>
<line x1="729.00" y1="1477.56" x2="742.30" y2="1477.56" stroke="#060606" stroke-width="4.1" />
<text x="717.5" y="1487.9" font-size="29.5" text-anchor="end" fill="#060606" font-weight="normal" >0.2</text>
<line x1="729.00" y1="1381.79" x2="742.30" y2="1381.79" stroke="#060606" stroke-width="4.1" />
<text x="717.5" y="1392.1" font-size="29.5" text-anchor="end" fill="#060606" font-weight="normal" >0.3</text>
<line x1="735.70" y1="1621.21" x2="742.30" y2="1621.21" stroke="#060606" stroke-width="4.1" />
<line x1="735.70" y1="1525.44" x2="742.30" y2="1525.44" stroke="#060606" stroke-width="4.1" />
<line x1="735.70" y1="1429.67" x2="742.30" y2="1429.67" stroke="#060606" stroke-width="4.1" />
<line x1="735.70" y1="1333.90" x2="742.30" y2="1333.90" stroke="#060606" stroke-width="4.1" />
<line x1="742.30" y1="1669.10" x2="742.30" y2="1681.60" stroke="#060606" stroke-width="4.1" />
<text x="741.8" y="1715.0" font-size="29.5" text-anchor="middle" fill="#060606" font-weight="normal" >0.0</text>
<line x1="912.90" y1="1669.10" x2="912.90" y2="1681.60" stroke="#060606" stroke-width="4.1" />
<text x="912.4" y="1715.0" font-size="29.5" text-anchor="middle" fill="#060606" font-weight="normal" >0.2</text>
<line x1="1083.50" y1="1669.10" x2="1083.50" y2="1681.60" stroke="#060606" stroke-width="4.1" />
<text x="1083.0" y="1715.0" font-size="29.5" text-anchor="middle" fill="#060606" font-weight="normal" >0.4</text>
<line x1="1254.10" y1="1669.10" x2="1254.10" y2="1681.60" stroke="#060606" stroke-width="4.1" />
<text x="1253.6" y="1715.0" font-size="29.5" text-anchor="middle" fill="#060606" font-weight="normal" >0.6</text>
<line x1="1424.70" y1="1669.10" x2="1424.70" y2="1681.60" stroke="#060606" stroke-width="4.1" />
<text x="1424.2" y="1715.0" font-size="29.5" text-anchor="middle" fill="#060606" font-weight="normal" >0.8</text>
<line x1="1595.30" y1="1669.10" x2="1595.30" y2="1681.60" stroke="#060606" stroke-width="4.1" />
<text x="1594.8" y="1715.0" font-size="29.5" text-anchor="middle" fill="#060606" font-weight="normal" >1.0</text>
<line x1="827.60" y1="1669.10" x2="827.60" y2="1675.60" stroke="#060606" stroke-width="4.1" />
<line x1="998.20" y1="1669.10" x2="998.20" y2="1675.60" stroke="#060606" stroke-width="4.1" />
<line x1="1168.80" y1="1669.10" x2="1168.80" y2="1675.60" stroke="#060606" stroke-width="4.1" />
<line x1="1339.40" y1="1669.10" x2="1339.40" y2="1675.60" stroke="#060606" stroke-width="4.1" />
<line x1="1510.00" y1="1669.10" x2="1510.00" y2="1675.60" stroke="#060606" stroke-width="4.1" />
<g clip-path="url(#clipe)">
<path d="M742.30,1669.10 L743.72,1669.17 L745.15,1669.24 L746.57,1669.30 L748.00,1669.36 L749.42,1669.41 L750.84,1669.45 L752.27,1669.47 L753.69,1669.48 L755.12,1669.47 L756.54,1669.44 L757.96,1669.39 L759.39,1669.31 L760.81,1669.21 L762.24,1669.07 L763.66,1668.91 L765.08,1668.71 L766.51,1668.48 L767.93,1668.21 L769.36,1667.90 L770.78,1667.55 L772.20,1667.15 L773.63,1666.71 L775.05,1666.22 L776.48,1665.67 L777.90,1665.07 L779.33,1664.42 L780.75,1663.71 L782.17,1662.94 L783.60,1662.11 L785.02,1661.21 L786.45,1660.24 L787.87,1659.21 L789.29,1658.10 L790.72,1656.92 L792.14,1655.67 L793.57,1654.34 L794.99,1652.93 L796.41,1651.43 L797.84,1649.85 L799.26,1648.18 L800.69,1646.43 L802.11,1644.58 L803.53,1642.64 L804.96,1640.61 L806.38,1638.47 L807.81,1636.24 L809.23,1633.90 L810.65,1631.46 L812.08,1628.91 L813.50,1626.26 L814.93,1623.49 L816.35,1620.62 L817.77,1617.64 L819.20,1614.58 L820.62,1611.42 L822.05,1608.17 L823.47,1604.85 L824.89,1601.45 L826.32,1597.98 L827.74,1594.45 L829.17,1590.86 L830.59,1587.22 L832.01,1583.52 L833.44,1579.78 L834.86,1576.01 L836.29,1572.20 L837.71,1568.36 L839.13,1564.49 L840.56,1560.61 L841.98,1556.72 L843.41,1552.82 L844.83,1548.91 L846.25,1545.01 L847.68,1541.12 L849.10,1537.23 L850.53,1533.37 L851.95,1529.53 L853.38,1525.72 L854.80,1521.94 L856.22,1518.19 L857.65,1514.50 L859.07,1510.85 L860.50,1507.25 L861.92,1503.72 L863.34,1500.24 L864.77,1496.84 L866.19,1493.51 L867.62,1490.26 L869.04,1487.10 L870.46,1484.02 L871.89,1481.04 L873.31,1478.16 L874.74,1475.39 L876.16,1472.72 L877.58,1470.17 L879.01,1467.75 L880.43,1465.44 L881.86,1463.27 L883.28,1461.24 L884.70,1459.34 L886.13,1457.59 L887.55,1455.98 L888.98,1454.51 L890.40,1453.17 L891.82,1451.96 L893.25,1450.88 L894.67,1449.92 L896.10,1449.08 L897.52,1448.35 L898.94,1447.74 L900.37,1447.23 L901.79,1446.82 L903.22,1446.52 L904.64,1446.31 L906.06,1446.19 L907.49,1446.16 L908.91,1446.22 L910.34,1446.36 L911.76,1446.57 L913.18,1446.86 L914.61,1447.22 L916.03,1447.64 L917.46,1448.13 L918.88,1448.67 L920.31,1449.27 L921.73,1449.92 L923.15,1450.62 L924.58,1451.36 L926.00,1452.14 L927.43,1452.96 L928.85,1453.80 L930.27,1454.68 L931.70,1455.58 L933.12,1456.50 L934.55,1457.44 L935.97,1458.40 L937.39,1459.36 L938.82,1460.33 L940.24,1461.30 L941.67,1462.27 L943.09,1463.23 L944.51,1464.18 L945.94,1465.12 L947.36,1466.05 L948.79,1466.95 L950.21,1467.83 L951.63,1468.69 L953.06,1469.51 L954.48,1470.29 L955.91,1471.04 L957.33,1471.74 L958.75,1472.40 L960.18,1473.03 L961.60,1473.61 L963.03,1474.15 L964.45,1474.66 L965.87,1475.13 L967.30,1475.56 L968.72,1475.96 L970.15,1476.32 L971.57,1476.64 L972.99,1476.94 L974.42,1477.20 L975.84,1477.43 L977.27,1477.62 L978.69,1477.79 L980.11,1477.93 L981.54,1478.04 L982.96,1478.12 L984.39,1478.17 L985.81,1478.19 L987.23,1478.19 L988.66,1478.17 L990.08,1478.12 L991.51,1478.05 L992.93,1477.95 L994.36,1477.83 L995.78,1477.69 L997.20,1477.53 L998.63,1477.35 L1000.05,1477.15 L1001.48,1476.93 L1002.90,1476.69 L1004.32,1476.44 L1005.75,1476.17 L1007.17,1475.89 L1008.60,1475.59 L1010.02,1475.27 L1011.44,1474.95 L1012.87,1474.61 L1014.29,1474.26 L1015.72,1473.90 L1017.14,1473.53 L1018.56,1473.15 L1019.99,1472.76 L1021.41,1472.36 L1022.84,1471.96 L1024.26,1471.55 L1025.68,1471.13 L1027.11,1470.71 L1028.53,1470.29 L1029.96,1469.86 L1031.38,1469.43 L1032.80,1468.99 L1034.23,1468.55 L1035.65,1468.11 L1037.08,1467.67 L1038.50,1467.23 L1039.92,1466.78 L1041.35,1466.34 L1042.77,1465.89 L1044.20,1465.44 L1045.62,1464.99 L1047.04,1464.55 L1048.47,1464.10 L1049.89,1463.65 L1051.32,1463.21 L1052.74,1462.77 L1054.16,1462.33 L1055.59,1461.89 L1057.01,1461.45 L1058.44,1461.02 L1059.86,1460.59 L1061.28,1460.17 L1062.71,1459.75 L1064.13,1459.33 L1065.56,1458.92 L1066.98,1458.52 L1068.41,1458.12 L1069.83,1457.72 L1071.25,1457.33 L1072.68,1456.95 L1074.10,1456.58 L1075.53,1456.21 L1076.95,1455.85 L1078.37,1455.50 L1079.80,1455.16 L1081.22,1454.82 L1082.65,1454.50 L1084.07,1454.18 L1085.49,1453.87 L1086.92,1453.58 L1088.34,1453.29 L1089.77,1453.02 L1091.19,1452.75 L1092.61,1452.50 L1094.04,1452.26 L1095.46,1452.03 L1096.89,1451.82 L1098.31,1451.62 L1099.73,1451.43 L1101.16,1451.25 L1102.58,1451.09 L1104.01,1450.93 L1105.43,1450.79 L1106.85,1450.67 L1108.28,1450.55 L1109.70,1450.44 L1111.13,1450.35 L1112.55,1450.27 L1113.97,1450.20 L1115.40,1450.14 L1116.82,1450.09 L1118.25,1450.05 L1119.67,1450.01 L1121.09,1449.99 L1122.52,1449.98 L1123.94,1449.98 L1125.37,1449.99 L1126.79,1450.00 L1128.21,1450.03 L1129.64,1450.06 L1131.06,1450.10 L1132.49,1450.15 L1133.91,1450.21 L1135.34,1450.27 L1136.76,1450.34 L1138.18,1450.42 L1139.61,1450.51 L1141.03,1450.60 L1142.46,1450.70 L1143.88,1450.81 L1145.30,1450.92 L1146.73,1451.03 L1148.15,1451.16 L1149.58,1451.28 L1151.00,1451.42 L1152.42,1451.55 L1153.85,1451.70 L1155.27,1451.84 L1156.70,1452.00 L1158.12,1452.15 L1159.54,1452.31 L1160.97,1452.47 L1162.39,1452.64 L1163.82,1452.81 L1165.24,1452.98 L1166.66,1453.16 L1168.09,1453.33 L1169.51,1453.51 L1170.94,1453.69 L1172.36,1453.88 L1173.78,1454.07 L1175.21,1454.26 L1176.63,1454.45 L1178.06,1454.64 L1179.48,1454.84 L1180.90,1455.04 L1182.33,1455.25 L1183.75,1455.45 L1185.18,1455.66 L1186.60,1455.88 L1188.02,1456.10 L1189.45,1456.32 L1190.87,1456.54 L1192.30,1456.77 L1193.72,1457.01 L1195.14,1457.24 L1196.57,1457.49 L1197.99,1457.73 L1199.42,1457.98 L1200.84,1458.24 L1202.26,1458.50 L1203.69,1458.76 L1205.11,1459.03 L1206.54,1459.31 L1207.96,1459.59 L1209.39,1459.88 L1210.81,1460.17 L1212.23,1460.47 L1213.66,1460.77 L1215.08,1461.08 L1216.51,1461.39 L1217.93,1461.71 L1219.35,1462.04 L1220.78,1462.37 L1222.20,1462.71 L1223.63,1463.06 L1225.05,1463.41 L1226.47,1463.77 L1227.90,1464.13 L1229.32,1464.51 L1230.75,1464.89 L1232.17,1465.27 L1233.59,1465.67 L1235.02,1466.07 L1236.44,1466.48 L1237.87,1466.90 L1239.29,1467.32 L1240.71,1467.75 L1242.14,1468.19 L1243.56,1468.64 L1244.99,1469.10 L1246.41,1469.56 L1247.83,1470.03 L1249.26,1470.50 L1250.68,1470.98 L1252.11,1471.46 L1253.53,1471.95 L1254.95,1472.44 L1256.38,1472.94 L1257.80,1473.44 L1259.23,1473.95 L1260.65,1474.45 L1262.07,1474.96 L1263.50,1475.47 L1264.92,1475.99 L1266.35,1476.50 L1267.77,1477.02 L1269.19,1477.53 L1270.62,1478.05 L1272.04,1478.57 L1273.47,1479.08 L1274.89,1479.60 L1276.32,1480.11 L1277.74,1480.63 L1279.16,1481.14 L1280.59,1481.65 L1282.01,1482.15 L1283.44,1482.65 L1284.86,1483.15 L1286.28,1483.65 L1287.71,1484.14 L1289.13,1484.63 L1290.56,1485.11 L1291.98,1485.58 L1293.40,1486.06 L1294.83,1486.52 L1296.25,1486.98 L1297.68,1487.43 L1299.10,1487.88 L1300.52,1488.31 L1301.95,1488.74 L1303.37,1489.16 L1304.80,1489.57 L1306.22,1489.98 L1307.64,1490.37 L1309.07,1490.76 L1310.49,1491.13 L1311.92,1491.49 L1313.34,1491.85 L1314.76,1492.19 L1316.19,1492.52 L1317.61,1492.83 L1319.04,1493.13 L1320.46,1493.42 L1321.88,1493.69 L1323.31,1493.95 L1324.73,1494.19 L1326.16,1494.41 L1327.58,1494.62 L1329.00,1494.80 L1330.43,1494.97 L1331.85,1495.12 L1333.28,1495.25 L1334.70,1495.35 L1336.12,1495.44 L1337.55,1495.50 L1338.97,1495.54 L1340.40,1495.55 L1341.82,1495.54 L1343.24,1495.51 L1344.67,1495.45 L1346.09,1495.36 L1347.52,1495.24 L1348.94,1495.10 L1350.37,1494.93 L1351.79,1494.73 L1353.21,1494.50 L1354.64,1494.24 L1356.06,1493.95 L1357.49,1493.63 L1358.91,1493.27 L1360.33,1492.88 L1361.76,1492.46 L1363.18,1492.00 L1364.61,1491.51 L1366.03,1490.98 L1367.45,1490.41 L1368.88,1489.81 L1370.30,1489.17 L1371.73,1488.49 L1373.15,1487.77 L1374.57,1487.01 L1376.00,1486.21 L1377.42,1485.37 L1378.85,1484.49 L1380.27,1483.56 L1381.69,1482.59 L1383.12,1481.58 L1384.54,1480.53 L1385.97,1479.44 L1387.39,1478.32 L1388.81,1477.17 L1390.24,1475.99 L1391.66,1474.80 L1393.09,1473.59 L1394.51,1472.38 L1395.93,1471.15 L1397.36,1469.93 L1398.78,1468.70 L1400.21,1467.49 L1401.63,1466.28 L1403.05,1465.09 L1404.48,1463.93 L1405.90,1462.78 L1407.33,1461.66 L1408.75,1460.58 L1410.17,1459.54 L1411.60,1458.53 L1413.02,1457.57 L1414.45,1456.67 L1415.87,1455.81 L1417.29,1455.02 L1418.72,1454.29 L1420.14,1453.63 L1421.57,1453.04 L1422.99,1452.53 L1424.42,1452.09 L1425.84,1451.75 L1427.26,1451.49 L1428.69,1451.33 L1430.11,1451.26 L1431.54,1451.30 L1432.96,1451.44 L1434.38,1451.70 L1435.81,1452.07 L1437.23,1452.56 L1438.66,1453.18 L1440.08,1453.92 L1441.50,1454.80 L1442.93,1455.81 L1444.35,1456.97 L1445.78,1458.27 L1447.20,1459.73 L1448.62,1461.34 L1450.05,1463.10 L1451.47,1465.04 L1452.90,1467.13 L1454.32,1469.41 L1455.74,1471.84 L1457.17,1474.44 L1458.59,1477.20 L1460.02,1480.10 L1461.44,1483.14 L1462.86,1486.32 L1464.29,1489.62 L1465.71,1493.05 L1467.14,1496.60 L1468.56,1500.25 L1469.98,1504.01 L1471.41,1507.86 L1472.83,1511.80 L1474.26,1515.82 L1475.68,1519.92 L1477.10,1524.09 L1478.53,1528.33 L1479.95,1532.62 L1481.38,1536.96 L1482.80,1541.34 L1484.22,1545.77 L1485.65,1550.22 L1487.07,1554.70 L1488.50,1559.19 L1489.92,1563.70 L1491.35,1568.21 L1492.77,1572.72 L1494.19,1577.22 L1495.62,1581.71 L1497.04,1586.17 L1498.47,1590.61 L1499.89,1595.02 L1501.31,1599.38 L1502.74,1603.69 L1504.16,1607.96 L1505.59,1612.16 L1507.01,1616.29 L1508.43,1620.35 L1509.86,1624.34 L1511.28,1628.23 L1512.71,1632.04 L1514.13,1635.74 L1515.55,1639.34 L1516.98,1642.82 L1518.40,1646.19 L1519.83,1649.43 L1521.25,1652.54 L1522.67,1655.51 L1524.10,1658.34 L1525.52,1661.01 L1526.95,1663.54 L1528.37,1665.92 L1529.79,1668.16 L1531.22,1670.26 L1532.64,1672.22 L1534.07,1674.04 L1535.49,1675.74 L1536.91,1677.31 L1538.34,1678.75 L1539.76,1680.07 L1541.19,1681.28 L1542.61,1682.36 L1544.03,1683.34 L1545.46,1684.20 L1546.88,1684.96 L1548.31,1685.62 L1549.73,1686.17 L1551.15,1686.63 L1552.58,1686.99 L1554.00,1687.26 L1555.43,1687.45 L1556.85,1687.54 L1558.27,1687.56 L1559.70,1687.50 L1561.12,1687.36 L1562.55,1687.14 L1563.97,1686.86 L1565.40,1686.51 L1566.82,1686.10 L1568.24,1685.63 L1569.67,1685.09 L1571.09,1684.51 L1572.52,1683.87 L1573.94,1683.18 L1575.36,1682.45 L1576.79,1681.67 L1578.21,1680.86 L1579.64,1680.01 L1581.06,1679.12 L1582.48,1678.21 L1583.91,1677.26 L1585.33,1676.30 L1586.76,1675.31 L1588.18,1674.30 L1589.60,1673.28 L1591.03,1672.24 L1592.45,1671.20 L1593.88,1670.15 L1595.30,1669.10" fill="none" stroke="#6e7a1b" stroke-width="6.0" stroke-linejoin="round"/>
<path d="M742.30,1669.10 L743.72,1668.79 L745.15,1668.49 L746.57,1668.18 L748.00,1667.86 L749.42,1667.55 L750.84,1667.23 L752.27,1666.91 L753.69,1666.58 L755.12,1666.25 L756.54,1665.91 L757.96,1665.56 L759.39,1665.21 L760.81,1664.85 L762.24,1664.47 L763.66,1664.09 L765.08,1663.70 L766.51,1663.29 L767.93,1662.88 L769.36,1662.45 L770.78,1662.00 L772.20,1661.54 L773.63,1661.07 L775.05,1660.58 L776.48,1660.07 L777.90,1659.55 L779.33,1659.01 L780.75,1658.45 L782.17,1657.87 L783.60,1657.27 L785.02,1656.65 L786.45,1656.01 L787.87,1655.34 L789.29,1654.66 L790.72,1653.94 L792.14,1653.21 L793.57,1652.45 L794.99,1651.66 L796.41,1650.85 L797.84,1650.00 L799.26,1649.14 L800.69,1648.24 L802.11,1647.31 L803.53,1646.35 L804.96,1645.36 L806.38,1644.34 L807.81,1643.29 L809.23,1642.20 L810.65,1641.08 L812.08,1639.93 L813.50,1638.74 L814.93,1637.51 L816.35,1636.25 L817.77,1634.95 L819.20,1633.62 L820.62,1632.26 L822.05,1630.87 L823.47,1629.44 L824.89,1627.99 L826.32,1626.50 L827.74,1624.99 L829.17,1623.45 L830.59,1621.88 L832.01,1620.28 L833.44,1618.66 L834.86,1617.02 L836.29,1615.35 L837.71,1613.66 L839.13,1611.94 L840.56,1610.21 L841.98,1608.45 L843.41,1606.67 L844.83,1604.87 L846.25,1603.06 L847.68,1601.23 L849.10,1599.38 L850.53,1597.51 L851.95,1595.63 L853.38,1593.74 L854.80,1591.83 L856.22,1589.91 L857.65,1587.97 L859.07,1586.03 L860.50,1584.07 L861.92,1582.11 L863.34,1580.13 L864.77,1578.15 L866.19,1576.16 L867.62,1574.17 L869.04,1572.17 L870.46,1570.16 L871.89,1568.15 L873.31,1566.14 L874.74,1564.12 L876.16,1562.10 L877.58,1560.09 L879.01,1558.07 L880.43,1556.05 L881.86,1554.03 L883.28,1552.02 L884.70,1550.01 L886.13,1548.00 L887.55,1546.00 L888.98,1544.00 L890.40,1542.02 L891.82,1540.04 L893.25,1538.07 L894.67,1536.11 L896.10,1534.17 L897.52,1532.23 L898.94,1530.32 L900.37,1528.41 L901.79,1526.53 L903.22,1524.66 L904.64,1522.82 L906.06,1520.99 L907.49,1519.19 L908.91,1517.41 L910.34,1515.65 L911.76,1513.92 L913.18,1512.21 L914.61,1510.54 L916.03,1508.89 L917.46,1507.27 L918.88,1505.69 L920.31,1504.13 L921.73,1502.61 L923.15,1501.13 L924.58,1499.68 L926.00,1498.27 L927.43,1496.90 L928.85,1495.56 L930.27,1494.27 L931.70,1493.02 L933.12,1491.82 L934.55,1490.65 L935.97,1489.54 L937.39,1488.47 L938.82,1487.45 L940.24,1486.48 L941.67,1485.56 L943.09,1484.69 L944.51,1483.87 L945.94,1483.11 L947.36,1482.40 L948.79,1481.75 L950.21,1481.16 L951.63,1480.63 L953.06,1480.15 L954.48,1479.74 L955.91,1479.39 L957.33,1479.10 L958.75,1478.88 L960.18,1478.71 L961.60,1478.59 L963.03,1478.53 L964.45,1478.53 L965.87,1478.56 L967.30,1478.65 L968.72,1478.78 L970.15,1478.95 L971.57,1479.16 L972.99,1479.40 L974.42,1479.68 L975.84,1479.99 L977.27,1480.33 L978.69,1480.69 L980.11,1481.08 L981.54,1481.50 L982.96,1481.93 L984.39,1482.38 L985.81,1482.84 L987.23,1483.32 L988.66,1483.80 L990.08,1484.29 L991.51,1484.79 L992.93,1485.29 L994.36,1485.79 L995.78,1486.29 L997.20,1486.79 L998.63,1487.28 L1000.05,1487.75 L1001.48,1488.22 L1002.90,1488.67 L1004.32,1489.11 L1005.75,1489.52 L1007.17,1489.92 L1008.60,1490.29 L1010.02,1490.64 L1011.44,1490.95 L1012.87,1491.24 L1014.29,1491.49 L1015.72,1491.71 L1017.14,1491.89 L1018.56,1492.02 L1019.99,1492.12 L1021.41,1492.17 L1022.84,1492.17 L1024.26,1492.12 L1025.68,1492.02 L1027.11,1491.86 L1028.53,1491.65 L1029.96,1491.38 L1031.38,1491.06 L1032.80,1490.69 L1034.23,1490.26 L1035.65,1489.79 L1037.08,1489.26 L1038.50,1488.68 L1039.92,1488.06 L1041.35,1487.39 L1042.77,1486.68 L1044.20,1485.92 L1045.62,1485.12 L1047.04,1484.28 L1048.47,1483.39 L1049.89,1482.47 L1051.32,1481.51 L1052.74,1480.51 L1054.16,1479.47 L1055.59,1478.40 L1057.01,1477.30 L1058.44,1476.16 L1059.86,1474.99 L1061.28,1473.79 L1062.71,1472.56 L1064.13,1471.30 L1065.56,1470.02 L1066.98,1468.70 L1068.41,1467.37 L1069.83,1466.01 L1071.25,1464.62 L1072.68,1463.21 L1074.10,1461.79 L1075.53,1460.34 L1076.95,1458.87 L1078.37,1457.39 L1079.80,1455.89 L1081.22,1454.38 L1082.65,1452.85 L1084.07,1451.31 L1085.49,1449.75 L1086.92,1448.19 L1088.34,1446.61 L1089.77,1445.03 L1091.19,1443.44 L1092.61,1441.85 L1094.04,1440.24 L1095.46,1438.64 L1096.89,1437.03 L1098.31,1435.42 L1099.73,1433.80 L1101.16,1432.19 L1102.58,1430.58 L1104.01,1428.98 L1105.43,1427.37 L1106.85,1425.77 L1108.28,1424.18 L1109.70,1422.59 L1111.13,1421.01 L1112.55,1419.45 L1113.97,1417.89 L1115.40,1416.34 L1116.82,1414.81 L1118.25,1413.29 L1119.67,1411.78 L1121.09,1410.29 L1122.52,1408.82 L1123.94,1407.37 L1125.37,1405.94 L1126.79,1404.52 L1128.21,1403.13 L1129.64,1401.76 L1131.06,1400.42 L1132.49,1399.10 L1133.91,1397.81 L1135.34,1396.54 L1136.76,1395.31 L1138.18,1394.10 L1139.61,1392.92 L1141.03,1391.78 L1142.46,1390.67 L1143.88,1389.59 L1145.30,1388.55 L1146.73,1387.55 L1148.15,1386.58 L1149.58,1385.65 L1151.00,1384.76 L1152.42,1383.91 L1153.85,1383.11 L1155.27,1382.34 L1156.70,1381.63 L1158.12,1380.95 L1159.54,1380.33 L1160.97,1379.75 L1162.39,1379.22 L1163.82,1378.74 L1165.24,1378.31 L1166.66,1377.94 L1168.09,1377.62 L1169.51,1377.35 L1170.94,1377.14 L1172.36,1376.98 L1173.78,1376.87 L1175.21,1376.82 L1176.63,1376.81 L1178.06,1376.86 L1179.48,1376.95 L1180.90,1377.10 L1182.33,1377.29 L1183.75,1377.52 L1185.18,1377.81 L1186.60,1378.13 L1188.02,1378.50 L1189.45,1378.92 L1190.87,1379.37 L1192.30,1379.86 L1193.72,1380.40 L1195.14,1380.97 L1196.57,1381.58 L1197.99,1382.23 L1199.42,1382.91 L1200.84,1383.63 L1202.26,1384.39 L1203.69,1385.17 L1205.11,1385.99 L1206.54,1386.84 L1207.96,1387.72 L1209.39,1388.63 L1210.81,1389.57 L1212.23,1390.53 L1213.66,1391.52 L1215.08,1392.54 L1216.51,1393.58 L1217.93,1394.65 L1219.35,1395.73 L1220.78,1396.84 L1222.20,1397.98 L1223.63,1399.13 L1225.05,1400.30 L1226.47,1401.49 L1227.90,1402.69 L1229.32,1403.91 L1230.75,1405.15 L1232.17,1406.40 L1233.59,1407.67 L1235.02,1408.94 L1236.44,1410.23 L1237.87,1411.53 L1239.29,1412.84 L1240.71,1414.16 L1242.14,1415.49 L1243.56,1416.82 L1244.99,1418.15 L1246.41,1419.49 L1247.83,1420.83 L1249.26,1422.17 L1250.68,1423.51 L1252.11,1424.84 L1253.53,1426.17 L1254.95,1427.49 L1256.38,1428.80 L1257.80,1430.11 L1259.23,1431.40 L1260.65,1432.68 L1262.07,1433.94 L1263.50,1435.19 L1264.92,1436.42 L1266.35,1437.63 L1267.77,1438.82 L1269.19,1439.99 L1270.62,1441.13 L1272.04,1442.25 L1273.47,1443.34 L1274.89,1444.40 L1276.32,1445.43 L1277.74,1446.43 L1279.16,1447.40 L1280.59,1448.33 L1282.01,1449.22 L1283.44,1450.07 L1284.86,1450.89 L1286.28,1451.66 L1287.71,1452.39 L1289.13,1453.08 L1290.56,1453.72 L1291.98,1454.31 L1293.40,1454.86 L1294.83,1455.35 L1296.25,1455.79 L1297.68,1456.17 L1299.10,1456.50 L1300.52,1456.77 L1301.95,1456.99 L1303.37,1457.14 L1304.80,1457.23 L1306.22,1457.26 L1307.64,1457.22 L1309.07,1457.12 L1310.49,1456.94 L1311.92,1456.70 L1313.34,1456.39 L1314.76,1456.02 L1316.19,1455.58 L1317.61,1455.09 L1319.04,1454.54 L1320.46,1453.94 L1321.88,1453.29 L1323.31,1452.60 L1324.73,1451.87 L1326.16,1451.10 L1327.58,1450.30 L1329.00,1449.46 L1330.43,1448.60 L1331.85,1447.72 L1333.28,1446.82 L1334.70,1445.90 L1336.12,1444.97 L1337.55,1444.02 L1338.97,1443.07 L1340.40,1442.12 L1341.82,1441.17 L1343.24,1440.23 L1344.67,1439.29 L1346.09,1438.36 L1347.52,1437.44 L1348.94,1436.55 L1350.37,1435.67 L1351.79,1434.82 L1353.21,1434.00 L1354.64,1433.21 L1356.06,1432.46 L1357.49,1431.74 L1358.91,1431.07 L1360.33,1430.44 L1361.76,1429.86 L1363.18,1429.33 L1364.61,1428.85 L1366.03,1428.44 L1367.45,1428.09 L1368.88,1427.80 L1370.30,1427.59 L1371.73,1427.45 L1373.15,1427.38 L1374.57,1427.39 L1376.00,1427.49 L1377.42,1427.67 L1378.85,1427.94 L1380.27,1428.31 L1381.69,1428.77 L1383.12,1429.34 L1384.54,1430.00 L1385.97,1430.76 L1387.39,1431.61 L1388.81,1432.56 L1390.24,1433.60 L1391.66,1434.73 L1393.09,1435.94 L1394.51,1437.23 L1395.93,1438.61 L1397.36,1440.07 L1398.78,1441.60 L1400.21,1443.21 L1401.63,1444.89 L1403.05,1446.63 L1404.48,1448.45 L1405.90,1450.33 L1407.33,1452.28 L1408.75,1454.28 L1410.17,1456.35 L1411.60,1458.47 L1413.02,1460.64 L1414.45,1462.87 L1415.87,1465.14 L1417.29,1467.47 L1418.72,1469.83 L1420.14,1472.24 L1421.57,1474.69 L1422.99,1477.18 L1424.42,1479.71 L1425.84,1482.26 L1427.26,1484.85 L1428.69,1487.47 L1430.11,1490.11 L1431.54,1492.78 L1432.96,1495.47 L1434.38,1498.18 L1435.81,1500.91 L1437.23,1503.65 L1438.66,1506.41 L1440.08,1509.18 L1441.50,1511.95 L1442.93,1514.73 L1444.35,1517.52 L1445.78,1520.30 L1447.20,1523.09 L1448.62,1525.87 L1450.05,1528.65 L1451.47,1531.42 L1452.90,1534.18 L1454.32,1536.93 L1455.74,1539.66 L1457.17,1542.38 L1458.59,1545.09 L1460.02,1547.78 L1461.44,1550.46 L1462.86,1553.12 L1464.29,1555.76 L1465.71,1558.38 L1467.14,1560.99 L1468.56,1563.58 L1469.98,1566.14 L1471.41,1568.69 L1472.83,1571.22 L1474.26,1573.72 L1475.68,1576.20 L1477.10,1578.66 L1478.53,1581.10 L1479.95,1583.51 L1481.38,1585.89 L1482.80,1588.25 L1484.22,1590.58 L1485.65,1592.89 L1487.07,1595.17 L1488.50,1597.42 L1489.92,1599.64 L1491.35,1601.83 L1492.77,1603.99 L1494.19,1606.12 L1495.62,1608.22 L1497.04,1610.28 L1498.47,1612.31 L1499.89,1614.31 L1501.31,1616.28 L1502.74,1618.20 L1504.16,1620.10 L1505.59,1621.95 L1507.01,1623.77 L1508.43,1625.55 L1509.86,1627.30 L1511.28,1629.00 L1512.71,1630.66 L1514.13,1632.29 L1515.55,1633.87 L1516.98,1635.41 L1518.40,1636.91 L1519.83,1638.36 L1521.25,1639.78 L1522.67,1641.14 L1524.10,1642.46 L1525.52,1643.74 L1526.95,1644.97 L1528.37,1646.16 L1529.79,1647.30 L1531.22,1648.40 L1532.64,1649.46 L1534.07,1650.48 L1535.49,1651.46 L1536.91,1652.40 L1538.34,1653.31 L1539.76,1654.17 L1541.19,1655.00 L1542.61,1655.80 L1544.03,1656.56 L1545.46,1657.29 L1546.88,1657.99 L1548.31,1658.65 L1549.73,1659.29 L1551.15,1659.89 L1552.58,1660.47 L1554.00,1661.02 L1555.43,1661.54 L1556.85,1662.04 L1558.27,1662.51 L1559.70,1662.96 L1561.12,1663.39 L1562.55,1663.79 L1563.97,1664.17 L1565.40,1664.54 L1566.82,1664.88 L1568.24,1665.20 L1569.67,1665.51 L1571.09,1665.80 L1572.52,1666.08 L1573.94,1666.34 L1575.36,1666.58 L1576.79,1666.82 L1578.21,1667.04 L1579.64,1667.25 L1581.06,1667.45 L1582.48,1667.64 L1583.91,1667.82 L1585.33,1668.00 L1586.76,1668.17 L1588.18,1668.33 L1589.60,1668.49 L1591.03,1668.65 L1592.45,1668.80 L1593.88,1668.95 L1595.30,1669.10" fill="none" stroke="#2150a0" stroke-width="6.0" stroke-linejoin="round"/>
<rect x="727.70" y="1654.70" width="29.2" height="28.8" fill="#6e7a1b"/>
<rect x="798.78" y="1612.08" width="29.2" height="28.8" fill="#6e7a1b"/>
<rect x="869.87" y="1445.25" width="29.2" height="28.8" fill="#6e7a1b"/>
<rect x="940.95" y="1456.45" width="29.2" height="28.8" fill="#6e7a1b"/>
<rect x="1012.03" y="1456.45" width="29.2" height="28.8" fill="#6e7a1b"/>
<rect x="1083.12" y="1437.30" width="29.2" height="28.8" fill="#6e7a1b"/>
<rect x="1154.20" y="1439.02" width="29.2" height="28.8" fill="#6e7a1b"/>
<rect x="1225.28" y="1453.10" width="29.2" height="28.8" fill="#6e7a1b"/>
<rect x="1296.37" y="1476.85" width="29.2" height="28.8" fill="#6e7a1b"/>
<rect x="1367.45" y="1467.95" width="29.2" height="28.8" fill="#6e7a1b"/>
<rect x="1438.53" y="1453.10" width="29.2" height="28.8" fill="#6e7a1b"/>
<rect x="1509.62" y="1644.17" width="29.2" height="28.8" fill="#6e7a1b"/>
<rect x="1580.70" y="1654.70" width="29.2" height="28.8" fill="#6e7a1b"/>
<circle cx="742.30" cy="1669.10" r="16.4" fill="#2150a0"/>
<circle cx="813.38" cy="1638.84" r="16.4" fill="#2150a0"/>
<circle cx="884.47" cy="1550.34" r="16.4" fill="#2150a0"/>
<circle cx="955.55" cy="1479.47" r="16.4" fill="#2150a0"/>
<circle cx="1026.63" cy="1491.92" r="16.4" fill="#2150a0"/>
<circle cx="1097.72" cy="1436.09" r="16.4" fill="#2150a0"/>
<circle cx="1168.80" cy="1377.48" r="16.4" fill="#2150a0"/>
<circle cx="1239.88" cy="1413.39" r="16.4" fill="#2150a0"/>
<circle cx="1310.97" cy="1456.87" r="16.4" fill="#2150a0"/>
<circle cx="1382.05" cy="1428.91" r="16.4" fill="#2150a0"/>
<circle cx="1453.13" cy="1534.64" r="16.4" fill="#2150a0"/>
<circle cx="1524.22" cy="1642.57" r="16.4" fill="#2150a0"/>
<circle cx="1595.30" cy="1669.10" r="16.4" fill="#2150a0"/>
</g>
<line x1="1409.50" y1="1359.10" x2="1495.00" y2="1359.10" stroke="#6e7a1b" stroke-width="5.8" stroke-linecap="round"/>
<rect x="1437.65" y="1344.70" width="29.2" height="28.8" fill="#6e7a1b"/>
<line x1="1409.50" y1="1408.20" x2="1495.00" y2="1408.20" stroke="#2150a0" stroke-width="5.8" stroke-linecap="round"/>
<circle cx="1452.25" cy="1408.20" r="16.4" fill="#2150a0"/>
<text x="1508.6" y="1368.0" font-size="25.3" text-anchor="start" fill="#060606" font-weight="normal" >PNC</text>
<text x="1508.6" y="1417.3" font-size="25.3" text-anchor="start" fill="#060606" font-weight="normal" >PCO</text>
<text transform="translate(648,1507.4) rotate(-90)" font-size="29.5" text-anchor="middle" fill="#060606">Energy (eV)</text>
<text x="1169.0" y="1755.5" font-size="29.5" text-anchor="middle" fill="#060606" font-weight="normal" >Migration coordinate</text>
<text x="626.0" y="1282.8" font-size="41" text-anchor="start" fill="#231f20" font-weight="bold" >e</text>
<defs>
<radialGradient id="gO" cx="0.5" cy="0.5" r="0.5" fx="0.5" fy="0.53"><stop offset="0" stop-color="#f4c6c6"/><stop offset="0.1" stop-color="#f2a2a2"/><stop offset="0.26" stop-color="#ee5a5e"/><stop offset="0.46" stop-color="#e92a32"/><stop offset="0.8" stop-color="#dc1c28"/><stop offset="0.93" stop-color="#b01520"/><stop offset="1" stop-color="#6a1018"/></radialGradient>
<radialGradient id="gOback" cx="0.5" cy="0.5" r="0.5" fx="0.35" fy="0.6"><stop offset="0" stop-color="#c03070"/><stop offset="0.55" stop-color="#8c2462"/><stop offset="1" stop-color="#581a52"/></radialGradient>
<radialGradient id="gObackG" cx="0.5" cy="0.5" r="0.5"><stop offset="0" stop-color="#c07070"/><stop offset="0.7" stop-color="#b05858"/><stop offset="1" stop-color="#985050"/></radialGradient>
<radialGradient id="gCo" cx="0.5" cy="0.5" r="0.5" fx="0.5" fy="0.5"><stop offset="0" stop-color="#3c58bc"/><stop offset="0.45" stop-color="#2a3ca6"/><stop offset="0.85" stop-color="#23329a"/><stop offset="1" stop-color="#1c2880"/></radialGradient>
<radialGradient id="gNi" cx="0.5" cy="0.5" r="0.5" fx="0.52" fy="0.55"><stop offset="0" stop-color="#d8dcdc"/><stop offset="0.3" stop-color="#b4babb"/><stop offset="0.75" stop-color="#9ba2a4"/><stop offset="1" stop-color="#7d8587"/></radialGradient>
<radialGradient id="gH" cx="0.5" cy="0.5" r="0.5"><stop offset="0" stop-color="#ffffff"/><stop offset="0.22" stop-color="#fdf4f4"/><stop offset="0.5" stop-color="#e9c6c9"/><stop offset="0.82" stop-color="#d4acb0"/><stop offset="0.94" stop-color="#b09496"/><stop offset="1" stop-color="#8a7878"/></radialGradient>
</defs>
<polygon points="196.50,689.00 298.40,835.60 162.20,934.60 53.40,796.00" fill="#6770b0"/>
<polygon points="196.5,689.0 53.4,796.0 160.0,796.0" fill="#7078b8" opacity="0.35"/>
<circle cx="196.00" cy="833.30" r="16.50" fill="url(#gOback)" opacity="0.75"/>
<line x1="174.60" y1="808.30" x2="185.55" y2="748.65" stroke="#2a3aa6" stroke-width="4.2" />
<line x1="185.55" y1="748.65" x2="196.50" y2="689.00" stroke="#c4204c" stroke-width="4.2" />
<line x1="174.60" y1="808.30" x2="185.55" y2="748.65" stroke="#3a4ab8" stroke-width="1.3" />
<line x1="185.55" y1="748.65" x2="196.50" y2="689.00" stroke="#d03a60" stroke-width="1.3" />
<line x1="174.60" y1="808.30" x2="236.50" y2="821.95" stroke="#2a3aa6" stroke-width="4.2" />
<line x1="236.50" y1="821.95" x2="298.40" y2="835.60" stroke="#c4204c" stroke-width="4.2" />
<line x1="174.60" y1="808.30" x2="236.50" y2="821.95" stroke="#3a4ab8" stroke-width="1.3" />
<line x1="236.50" y1="821.95" x2="298.40" y2="835.60" stroke="#d03a60" stroke-width="1.3" />
<line x1="174.60" y1="808.30" x2="168.40" y2="871.45" stroke="#2a3aa6" stroke-width="4.2" />
<line x1="168.40" y1="871.45" x2="162.20" y2="934.60" stroke="#c4204c" stroke-width="4.2" />
<line x1="174.60" y1="808.30" x2="168.40" y2="871.45" stroke="#3a4ab8" stroke-width="1.3" />
<line x1="168.40" y1="871.45" x2="162.20" y2="934.60" stroke="#d03a60" stroke-width="1.3" />
<line x1="174.60" y1="808.30" x2="114.00" y2="802.15" stroke="#2a3aa6" stroke-width="4.2" />
<line x1="114.00" y1="802.15" x2="53.40" y2="796.00" stroke="#c4204c" stroke-width="4.2" />
<line x1="174.60" y1="808.30" x2="114.00" y2="802.15" stroke="#3a4ab8" stroke-width="1.3" />
<line x1="114.00" y1="802.15" x2="53.40" y2="796.00" stroke="#d03a60" stroke-width="1.3" />
<line x1="196.50" y1="689.00" x2="160.00" y2="796.00" stroke="#ffffff" stroke-width="1.0" opacity="0.22"/>
<line x1="160.00" y1="796.00" x2="162.20" y2="934.60" stroke="#ffffff" stroke-width="1.0" opacity="0.22"/>
<line x1="53.40" y1="796.00" x2="160.00" y2="796.00" stroke="#ffffff" stroke-width="1.0" opacity="0.22"/>
<line x1="160.00" y1="796.00" x2="298.40" y2="835.60" stroke="#ffffff" stroke-width="1.0" opacity="0.22"/>
<circle cx="174.60" cy="808.30" r="31.70" fill="url(#gCo)" />
<polygon points="403.90,692.40 544.30,796.10 440.40,935.50 298.40,835.60" fill="#aaaeb0"/>
<polygon points="403.9,692.4 544.3,796.1 435.9,828.8" fill="#b0b4b5" opacity="0.5"/>
<polygon points="298.4,835.6 440.4,935.5 435.9,828.8" fill="#a2a6a7" opacity="0.5"/>
<circle cx="408.00" cy="799.00" r="16.50" fill="url(#gObackG)" opacity="0.75"/>
<line x1="421.60" y1="814.50" x2="412.75" y2="753.45" stroke="#8d9494" stroke-width="4.2" />
<line x1="412.75" y1="753.45" x2="403.90" y2="692.40" stroke="#d2505a" stroke-width="4.2" />
<line x1="421.60" y1="814.50" x2="412.75" y2="753.45" stroke="#b8bebe" stroke-width="1.3" />
<line x1="412.75" y1="753.45" x2="403.90" y2="692.40" stroke="#e07880" stroke-width="1.3" />
<line x1="421.60" y1="814.50" x2="482.95" y2="805.30" stroke="#8d9494" stroke-width="4.2" />
<line x1="482.95" y1="805.30" x2="544.30" y2="796.10" stroke="#d2505a" stroke-width="4.2" />
<line x1="421.60" y1="814.50" x2="482.95" y2="805.30" stroke="#b8bebe" stroke-width="1.3" />
<line x1="482.95" y1="805.30" x2="544.30" y2="796.10" stroke="#e07880" stroke-width="1.3" />
<line x1="421.60" y1="814.50" x2="431.00" y2="875.00" stroke="#8d9494" stroke-width="4.2" />
<line x1="431.00" y1="875.00" x2="440.40" y2="935.50" stroke="#d2505a" stroke-width="4.2" />
<line x1="421.60" y1="814.50" x2="431.00" y2="875.00" stroke="#b8bebe" stroke-width="1.3" />
<line x1="431.00" y1="875.00" x2="440.40" y2="935.50" stroke="#e07880" stroke-width="1.3" />
<line x1="421.60" y1="814.50" x2="360.00" y2="825.05" stroke="#8d9494" stroke-width="4.2" />
<line x1="360.00" y1="825.05" x2="298.40" y2="835.60" stroke="#d2505a" stroke-width="4.2" />
<line x1="421.60" y1="814.50" x2="360.00" y2="825.05" stroke="#b8bebe" stroke-width="1.3" />
<line x1="360.00" y1="825.05" x2="298.40" y2="835.60" stroke="#e07880" stroke-width="1.3" />
<line x1="403.90" y1="692.40" x2="435.90" y2="828.80" stroke="#ffffff" stroke-width="1.0" opacity="0.22"/>
<line x1="435.90" y1="828.80" x2="440.40" y2="935.50" stroke="#ffffff" stroke-width="1.0" opacity="0.22"/>
<line x1="298.40" y1="835.60" x2="435.90" y2="828.80" stroke="#ffffff" stroke-width="1.0" opacity="0.22"/>
<line x1="435.90" y1="828.80" x2="544.30" y2="796.10" stroke="#ffffff" stroke-width="1.0" opacity="0.22"/>
<circle cx="421.60" cy="814.50" r="31.70" fill="url(#gNi)" />
<polygon points="162.20,934.60 296.20,1037.80 196.00,1183.50 56.00,1077.30" fill="#aaaeb0"/>
<polygon points="162.2,934.6 296.2,1037.8 194.2,1069.9" fill="#b0b4b5" opacity="0.5"/>
<polygon points="56.0,1077.3 196.0,1183.5 194.2,1069.9" fill="#a2a6a7" opacity="0.5"/>
<circle cx="158.00" cy="1044.00" r="16.50" fill="url(#gObackG)" opacity="0.75"/>
<line x1="174.20" y1="1066.00" x2="168.20" y2="1000.30" stroke="#8d9494" stroke-width="4.2" />
<line x1="168.20" y1="1000.30" x2="162.20" y2="934.60" stroke="#d2505a" stroke-width="4.2" />
<line x1="174.20" y1="1066.00" x2="168.20" y2="1000.30" stroke="#b8bebe" stroke-width="1.3" />
<line x1="168.20" y1="1000.30" x2="162.20" y2="934.60" stroke="#e07880" stroke-width="1.3" />
<line x1="174.20" y1="1066.00" x2="235.20" y2="1051.90" stroke="#8d9494" stroke-width="4.2" />
<line x1="235.20" y1="1051.90" x2="296.20" y2="1037.80" stroke="#d2505a" stroke-width="4.2" />
<line x1="174.20" y1="1066.00" x2="235.20" y2="1051.90" stroke="#b8bebe" stroke-width="1.3" />
<line x1="235.20" y1="1051.90" x2="296.20" y2="1037.80" stroke="#e07880" stroke-width="1.3" />
<line x1="174.20" y1="1066.00" x2="185.10" y2="1124.75" stroke="#8d9494" stroke-width="4.2" />
<line x1="185.10" y1="1124.75" x2="196.00" y2="1183.50" stroke="#d2505a" stroke-width="4.2" />
<line x1="174.20" y1="1066.00" x2="185.10" y2="1124.75" stroke="#b8bebe" stroke-width="1.3" />
<line x1="185.10" y1="1124.75" x2="196.00" y2="1183.50" stroke="#e07880" stroke-width="1.3" />
<line x1="174.20" y1="1066.00" x2="115.10" y2="1071.65" stroke="#8d9494" stroke-width="4.2" />
<line x1="115.10" y1="1071.65" x2="56.00" y2="1077.30" stroke="#d2505a" stroke-width="4.2" />
<line x1="174.20" y1="1066.00" x2="115.10" y2="1071.65" stroke="#b8bebe" stroke-width="1.3" />
<line x1="115.10" y1="1071.65" x2="56.00" y2="1077.30" stroke="#e07880" stroke-width="1.3" />
<line x1="162.20" y1="934.60" x2="194.20" y2="1069.90" stroke="#ffffff" stroke-width="1.0" opacity="0.22"/>
<line x1="194.20" y1="1069.90" x2="196.00" y2="1183.50" stroke="#ffffff" stroke-width="1.0" opacity="0.22"/>
<line x1="56.00" y1="1077.30" x2="194.20" y2="1069.90" stroke="#ffffff" stroke-width="1.0" opacity="0.22"/>
<line x1="194.20" y1="1069.90" x2="296.20" y2="1037.80" stroke="#ffffff" stroke-width="1.0" opacity="0.22"/>
<circle cx="174.20" cy="1066.00" r="31.70" fill="url(#gNi)" />
<polygon points="440.40,935.50 546.20,1075.80 403.90,1181.60 296.20,1037.80" fill="#6770b0"/>
<polygon points="440.4,935.5 296.2,1037.8 409.9,1043.9" fill="#7078b8" opacity="0.35"/>
<circle cx="441.40" cy="1079.60" r="16.50" fill="url(#gOback)" opacity="0.75"/>
<line x1="421.90" y1="1062.90" x2="431.15" y2="999.20" stroke="#2a3aa6" stroke-width="4.2" />
<line x1="431.15" y1="999.20" x2="440.40" y2="935.50" stroke="#c4204c" stroke-width="4.2" />
<line x1="421.90" y1="1062.90" x2="431.15" y2="999.20" stroke="#3a4ab8" stroke-width="1.3" />
<line x1="431.15" y1="999.20" x2="440.40" y2="935.50" stroke="#d03a60" stroke-width="1.3" />
<line x1="421.90" y1="1062.90" x2="484.05" y2="1069.35" stroke="#2a3aa6" stroke-width="4.2" />
<line x1="484.05" y1="1069.35" x2="546.20" y2="1075.80" stroke="#c4204c" stroke-width="4.2" />
<line x1="421.90" y1="1062.90" x2="484.05" y2="1069.35" stroke="#3a4ab8" stroke-width="1.3" />
<line x1="484.05" y1="1069.35" x2="546.20" y2="1075.80" stroke="#d03a60" stroke-width="1.3" />
<line x1="421.90" y1="1062.90" x2="412.90" y2="1122.25" stroke="#2a3aa6" stroke-width="4.2" />
<line x1="412.90" y1="1122.25" x2="403.90" y2="1181.60" stroke="#c4204c" stroke-width="4.2" />
<line x1="421.90" y1="1062.90" x2="412.90" y2="1122.25" stroke="#3a4ab8" stroke-width="1.3" />
<line x1="412.90" y1="1122.25" x2="403.90" y2="1181.60" stroke="#d03a60" stroke-width="1.3" />
<line x1="421.90" y1="1062.90" x2="359.05" y2="1050.35" stroke="#2a3aa6" stroke-width="4.2" />
<line x1="359.05" y1="1050.35" x2="296.20" y2="1037.80" stroke="#c4204c" stroke-width="4.2" />
<line x1="421.90" y1="1062.90" x2="359.05" y2="1050.35" stroke="#3a4ab8" stroke-width="1.3" />
<line x1="359.05" y1="1050.35" x2="296.20" y2="1037.80" stroke="#d03a60" stroke-width="1.3" />
<line x1="440.40" y1="935.50" x2="409.90" y2="1043.90" stroke="#ffffff" stroke-width="1.0" opacity="0.22"/>
<line x1="409.90" y1="1043.90" x2="403.90" y2="1181.60" stroke="#ffffff" stroke-width="1.0" opacity="0.22"/>
<line x1="296.20" y1="1037.80" x2="409.90" y2="1043.90" stroke="#ffffff" stroke-width="1.0" opacity="0.22"/>
<line x1="409.90" y1="1043.90" x2="546.20" y2="1075.80" stroke="#ffffff" stroke-width="1.0" opacity="0.22"/>
<circle cx="421.90" cy="1062.90" r="31.70" fill="url(#gCo)" />
<circle cx="196.50" cy="689.00" r="18.70" fill="url(#gO)" />
<circle cx="53.40" cy="796.00" r="18.70" fill="url(#gO)" />
<circle cx="298.40" cy="835.60" r="18.70" fill="url(#gO)" />
<circle cx="162.20" cy="934.60" r="18.70" fill="url(#gO)" />
<circle cx="403.90" cy="692.40" r="18.70" fill="url(#gO)" />
<circle cx="544.30" cy="796.10" r="18.70" fill="url(#gO)" />
<circle cx="440.40" cy="935.50" r="18.70" fill="url(#gO)" />
<circle cx="296.20" cy="1037.80" r="18.70" fill="url(#gO)" />
<circle cx="56.00" cy="1077.30" r="18.70" fill="url(#gO)" />
<circle cx="196.00" cy="1183.50" r="18.70" fill="url(#gO)" />
<circle cx="546.20" cy="1075.80" r="18.70" fill="url(#gO)" />
<circle cx="403.90" cy="1181.60" r="18.70" fill="url(#gO)" />
<circle cx="160.00" cy="796.00" r="18.70" fill="url(#gO)" />
<circle cx="435.90" cy="828.80" r="18.70" fill="url(#gO)" />
<circle cx="194.20" cy="1069.90" r="18.70" fill="url(#gO)" />
<circle cx="409.90" cy="1043.90" r="18.70" fill="url(#gO)" />
<line x1="303.10" y1="894.00" x2="300.10" y2="911.40" stroke="#d8c0c0" stroke-width="3.5" />
<line x1="300.10" y1="911.40" x2="300.10" y2="936.80" stroke="#d8c0c0" stroke-width="3.5" />
<line x1="300.10" y1="936.80" x2="300.10" y2="961.80" stroke="#d8c0c0" stroke-width="3.5" />
<line x1="300.10" y1="961.80" x2="297.00" y2="979.90" stroke="#d8c0c0" stroke-width="3.5" />
<circle cx="303.10" cy="894.00" r="11.70" fill="url(#gH)" />
<circle cx="300.10" cy="911.40" r="11.70" fill="url(#gH)" />
<circle cx="300.10" cy="936.80" r="11.70" fill="url(#gH)" />
<circle cx="300.10" cy="961.80" r="11.70" fill="url(#gH)" />
<circle cx="297.00" cy="979.90" r="11.70" fill="url(#gH)" />
<text x="271.5" y="795.3" font-size="30" text-anchor="start" fill="#231f20" font-weight="normal" >O3</text>
<text x="433.0" y="781.4" font-size="30" text-anchor="start" fill="#231f20" font-weight="normal" >Ni</text>
<text x="86.0" y="950.2" font-size="30" text-anchor="start" fill="#231f20" font-weight="normal" >O2</text>
<text x="467.0" y="941.8" font-size="30" text-anchor="start" fill="#231f20" font-weight="normal" >O2</text>
<text x="428.4" y="1033.0" font-size="30" text-anchor="start" fill="#ffffff" font-weight="normal" >Co</text>
<text x="271.5" y="1106.1" font-size="30" text-anchor="start" fill="#231f20" font-weight="normal" >O3</text>
<text x="254.5" y="905.2" font-size="30" text-anchor="start" fill="#231f20" font-weight="normal" >H<tspan font-size="20" dy="-11.8">+</tspan></text>
<text x="0.2" y="702.8" font-size="41" text-anchor="start" fill="#231f20" font-weight="bold" >b</text>
<polygon points="206.30,1276.00 307.40,1425.00 172.10,1522.00 63.40,1381.70" fill="#6770b0"/>
<polygon points="206.3,1276.0 63.4,1381.7 176.6,1390.6" fill="#7078b8" opacity="0.35"/>
<circle cx="198.00" cy="1416.00" r="16.50" fill="url(#gOback)" opacity="0.75"/>
<line x1="184.90" y1="1395.60" x2="195.60" y2="1335.80" stroke="#2a3aa6" stroke-width="4.2" />
<line x1="195.60" y1="1335.80" x2="206.30" y2="1276.00" stroke="#c4204c" stroke-width="4.2" />
<line x1="184.90" y1="1395.60" x2="195.60" y2="1335.80" stroke="#3a4ab8" stroke-width="1.3" />
<line x1="195.60" y1="1335.80" x2="206.30" y2="1276.00" stroke="#d03a60" stroke-width="1.3" />
<line x1="184.90" y1="1395.60" x2="246.15" y2="1410.30" stroke="#2a3aa6" stroke-width="4.2" />
<line x1="246.15" y1="1410.30" x2="307.40" y2="1425.00" stroke="#c4204c" stroke-width="4.2" />
<line x1="184.90" y1="1395.60" x2="246.15" y2="1410.30" stroke="#3a4ab8" stroke-width="1.3" />
<line x1="246.15" y1="1410.30" x2="307.40" y2="1425.00" stroke="#d03a60" stroke-width="1.3" />
<line x1="184.90" y1="1395.60" x2="178.50" y2="1458.80" stroke="#2a3aa6" stroke-width="4.2" />
<line x1="178.50" y1="1458.80" x2="172.10" y2="1522.00" stroke="#c4204c" stroke-width="4.2" />
<line x1="184.90" y1="1395.60" x2="178.50" y2="1458.80" stroke="#3a4ab8" stroke-width="1.3" />
<line x1="178.50" y1="1458.80" x2="172.10" y2="1522.00" stroke="#d03a60" stroke-width="1.3" />
<line x1="184.90" y1="1395.60" x2="124.15" y2="1388.65" stroke="#2a3aa6" stroke-width="4.2" />
<line x1="124.15" y1="1388.65" x2="63.40" y2="1381.70" stroke="#c4204c" stroke-width="4.2" />
<line x1="184.90" y1="1395.60" x2="124.15" y2="1388.65" stroke="#3a4ab8" stroke-width="1.3" />
<line x1="124.15" y1="1388.65" x2="63.40" y2="1381.70" stroke="#d03a60" stroke-width="1.3" />
<line x1="206.30" y1="1276.00" x2="176.60" y2="1390.60" stroke="#ffffff" stroke-width="1.0" opacity="0.22"/>
<line x1="176.60" y1="1390.60" x2="172.10" y2="1522.00" stroke="#ffffff" stroke-width="1.0" opacity="0.22"/>
<line x1="63.40" y1="1381.70" x2="176.60" y2="1390.60" stroke="#ffffff" stroke-width="1.0" opacity="0.22"/>
<line x1="176.60" y1="1390.60" x2="307.40" y2="1425.00" stroke="#ffffff" stroke-width="1.0" opacity="0.22"/>
<circle cx="184.90" cy="1395.60" r="31.70" fill="url(#gCo)" />
<polygon points="412.30,1283.20 548.30,1384.70 444.30,1522.40 307.40,1425.00" fill="#aaaeb0"/>
<polygon points="412.3,1283.2 548.3,1384.7 448.2,1423.6" fill="#b0b4b5" opacity="0.5"/>
<polygon points="307.4,1425.0 444.3,1522.4 448.2,1423.6" fill="#a2a6a7" opacity="0.5"/>
<circle cx="407.00" cy="1381.30" r="16.50" fill="url(#gObackG)" opacity="0.75"/>
<line x1="428.10" y1="1403.60" x2="420.20" y2="1343.40" stroke="#8d9494" stroke-width="4.2" />
<line x1="420.20" y1="1343.40" x2="412.30" y2="1283.20" stroke="#d2505a" stroke-width="4.2" />
<line x1="428.10" y1="1403.60" x2="420.20" y2="1343.40" stroke="#b8bebe" stroke-width="1.3" />
<line x1="420.20" y1="1343.40" x2="412.30" y2="1283.20" stroke="#e07880" stroke-width="1.3" />
<line x1="428.10" y1="1403.60" x2="488.20" y2="1394.15" stroke="#8d9494" stroke-width="4.2" />
<line x1="488.20" y1="1394.15" x2="548.30" y2="1384.70" stroke="#d2505a" stroke-width="4.2" />
<line x1="428.10" y1="1403.60" x2="488.20" y2="1394.15" stroke="#b8bebe" stroke-width="1.3" />
<line x1="488.20" y1="1394.15" x2="548.30" y2="1384.70" stroke="#e07880" stroke-width="1.3" />
<line x1="428.10" y1="1403.60" x2="436.20" y2="1463.00" stroke="#8d9494" stroke-width="4.2" />
<line x1="436.20" y1="1463.00" x2="444.30" y2="1522.40" stroke="#d2505a" stroke-width="4.2" />
<line x1="428.10" y1="1403.60" x2="436.20" y2="1463.00" stroke="#b8bebe" stroke-width="1.3" />
<line x1="436.20" y1="1463.00" x2="444.30" y2="1522.40" stroke="#e07880" stroke-width="1.3" />
<line x1="428.10" y1="1403.60" x2="367.75" y2="1414.30" stroke="#8d9494" stroke-width="4.2" />
<line x1="367.75" y1="1414.30" x2="307.40" y2="1425.00" stroke="#d2505a" stroke-width="4.2" />
<line x1="428.10" y1="1403.60" x2="367.75" y2="1414.30" stroke="#b8bebe" stroke-width="1.3" />
<line x1="367.75" y1="1414.30" x2="307.40" y2="1425.00" stroke="#e07880" stroke-width="1.3" />
<line x1="412.30" y1="1283.20" x2="448.20" y2="1423.60" stroke="#ffffff" stroke-width="1.0" opacity="0.22"/>
<line x1="448.20" y1="1423.60" x2="444.30" y2="1522.40" stroke="#ffffff" stroke-width="1.0" opacity="0.22"/>
<line x1="307.40" y1="1425.00" x2="448.20" y2="1423.60" stroke="#ffffff" stroke-width="1.0" opacity="0.22"/>
<line x1="448.20" y1="1423.60" x2="548.30" y2="1384.70" stroke="#ffffff" stroke-width="1.0" opacity="0.22"/>
<circle cx="428.10" cy="1403.60" r="31.70" fill="url(#gNi)" />
<polygon points="172.10,1522.00 302.10,1623.40 201.80,1768.70 65.70,1663.30" fill="#aaaeb0"/>
<polygon points="172.1,1522.0 302.1,1623.4 208.6,1662.6" fill="#b0b4b5" opacity="0.5"/>
<polygon points="65.7,1663.3 201.8,1768.7 208.6,1662.6" fill="#a2a6a7" opacity="0.5"/>
<circle cx="162.70" cy="1624.10" r="16.50" fill="url(#gObackG)" opacity="0.75"/>
<line x1="183.00" y1="1652.40" x2="177.55" y2="1587.20" stroke="#8d9494" stroke-width="4.2" />
<line x1="177.55" y1="1587.20" x2="172.10" y2="1522.00" stroke="#d2505a" stroke-width="4.2" />
<line x1="183.00" y1="1652.40" x2="177.55" y2="1587.20" stroke="#b8bebe" stroke-width="1.3" />
<line x1="177.55" y1="1587.20" x2="172.10" y2="1522.00" stroke="#e07880" stroke-width="1.3" />
<line x1="183.00" y1="1652.40" x2="242.55" y2="1637.90" stroke="#8d9494" stroke-width="4.2" />
<line x1="242.55" y1="1637.90" x2="302.10" y2="1623.40" stroke="#d2505a" stroke-width="4.2" />
<line x1="183.00" y1="1652.40" x2="242.55" y2="1637.90" stroke="#b8bebe" stroke-width="1.3" />
<line x1="242.55" y1="1637.90" x2="302.10" y2="1623.40" stroke="#e07880" stroke-width="1.3" />
<line x1="183.00" y1="1652.40" x2="192.40" y2="1710.55" stroke="#8d9494" stroke-width="4.2" />
<line x1="192.40" y1="1710.55" x2="201.80" y2="1768.70" stroke="#d2505a" stroke-width="4.2" />
<line x1="183.00" y1="1652.40" x2="192.40" y2="1710.55" stroke="#b8bebe" stroke-width="1.3" />
<line x1="192.40" y1="1710.55" x2="201.80" y2="1768.70" stroke="#e07880" stroke-width="1.3" />
<line x1="183.00" y1="1652.40" x2="124.35" y2="1657.85" stroke="#8d9494" stroke-width="4.2" />
<line x1="124.35" y1="1657.85" x2="65.70" y2="1663.30" stroke="#d2505a" stroke-width="4.2" />
<line x1="183.00" y1="1652.40" x2="124.35" y2="1657.85" stroke="#b8bebe" stroke-width="1.3" />
<line x1="124.35" y1="1657.85" x2="65.70" y2="1663.30" stroke="#e07880" stroke-width="1.3" />
<line x1="172.10" y1="1522.00" x2="208.60" y2="1662.60" stroke="#ffffff" stroke-width="1.0" opacity="0.22"/>
<line x1="208.60" y1="1662.60" x2="201.80" y2="1768.70" stroke="#ffffff" stroke-width="1.0" opacity="0.22"/>
<line x1="65.70" y1="1663.30" x2="208.60" y2="1662.60" stroke="#ffffff" stroke-width="1.0" opacity="0.22"/>
<line x1="208.60" y1="1662.60" x2="302.10" y2="1623.40" stroke="#ffffff" stroke-width="1.0" opacity="0.22"/>
<circle cx="183.00" cy="1652.40" r="31.70" fill="url(#gNi)" />
<polygon points="444.30,1522.40 549.70,1665.00 408.60,1769.50 302.10,1623.40" fill="#6770b0"/>
<polygon points="444.3,1522.4 302.1,1623.4 421.0,1637.6" fill="#7078b8" opacity="0.35"/>
<line x1="426.50" y1="1646.30" x2="435.40" y2="1584.35" stroke="#2a3aa6" stroke-width="4.2" />
<line x1="435.40" y1="1584.35" x2="444.30" y2="1522.40" stroke="#c4204c" stroke-width="4.2" />
<line x1="426.50" y1="1646.30" x2="435.40" y2="1584.35" stroke="#3a4ab8" stroke-width="1.3" />
<line x1="435.40" y1="1584.35" x2="444.30" y2="1522.40" stroke="#d03a60" stroke-width="1.3" />
<line x1="426.50" y1="1646.30" x2="488.10" y2="1655.65" stroke="#2a3aa6" stroke-width="4.2" />
<line x1="488.10" y1="1655.65" x2="549.70" y2="1665.00" stroke="#c4204c" stroke-width="4.2" />
<line x1="426.50" y1="1646.30" x2="488.10" y2="1655.65" stroke="#3a4ab8" stroke-width="1.3" />
<line x1="488.10" y1="1655.65" x2="549.70" y2="1665.00" stroke="#d03a60" stroke-width="1.3" />
<line x1="426.50" y1="1646.30" x2="417.55" y2="1707.90" stroke="#2a3aa6" stroke-width="4.2" />
<line x1="417.55" y1="1707.90" x2="408.60" y2="1769.50" stroke="#c4204c" stroke-width="4.2" />
<line x1="426.50" y1="1646.30" x2="417.55" y2="1707.90" stroke="#3a4ab8" stroke-width="1.3" />
<line x1="417.55" y1="1707.90" x2="408.60" y2="1769.50" stroke="#d03a60" stroke-width="1.3" />
<line x1="426.50" y1="1646.30" x2="364.30" y2="1634.85" stroke="#2a3aa6" stroke-width="4.2" />
<line x1="364.30" y1="1634.85" x2="302.10" y2="1623.40" stroke="#c4204c" stroke-width="4.2" />
<line x1="426.50" y1="1646.30" x2="364.30" y2="1634.85" stroke="#3a4ab8" stroke-width="1.3" />
<line x1="364.30" y1="1634.85" x2="302.10" y2="1623.40" stroke="#d03a60" stroke-width="1.3" />
<line x1="444.30" y1="1522.40" x2="421.00" y2="1637.60" stroke="#ffffff" stroke-width="1.0" opacity="0.22"/>
<line x1="421.00" y1="1637.60" x2="408.60" y2="1769.50" stroke="#ffffff" stroke-width="1.0" opacity="0.22"/>
<line x1="302.10" y1="1623.40" x2="421.00" y2="1637.60" stroke="#ffffff" stroke-width="1.0" opacity="0.22"/>
<line x1="421.00" y1="1637.60" x2="549.70" y2="1665.00" stroke="#ffffff" stroke-width="1.0" opacity="0.22"/>
<circle cx="426.50" cy="1646.30" r="31.70" fill="url(#gCo)" />
<circle cx="206.30" cy="1276.00" r="18.70" fill="url(#gO)" />
<circle cx="63.40" cy="1381.70" r="18.70" fill="url(#gO)" />
<circle cx="307.40" cy="1425.00" r="18.70" fill="url(#gO)" />
<circle cx="172.10" cy="1522.00" r="18.70" fill="url(#gO)" />
<circle cx="412.30" cy="1283.20" r="18.70" fill="url(#gO)" />
<circle cx="548.30" cy="1384.70" r="18.70" fill="url(#gO)" />
<circle cx="444.30" cy="1522.40" r="18.70" fill="url(#gO)" />
<circle cx="302.10" cy="1623.40" r="18.70" fill="url(#gO)" />
<circle cx="65.70" cy="1663.30" r="18.70" fill="url(#gO)" />
<circle cx="201.80" cy="1768.70" r="18.70" fill="url(#gO)" />
<circle cx="549.70" cy="1665.00" r="18.70" fill="url(#gO)" />
<circle cx="408.60" cy="1769.50" r="18.70" fill="url(#gO)" />
<circle cx="176.60" cy="1390.60" r="18.70" fill="url(#gO)" />
<circle cx="448.20" cy="1423.60" r="18.70" fill="url(#gO)" />
<circle cx="208.60" cy="1662.60" r="18.70" fill="url(#gO)" />
<circle cx="421.20" cy="1637.80" r="18.70" fill="url(#gO)" />
<line x1="233.40" y1="1527.20" x2="239.60" y2="1503.80" stroke="#d8c0c0" stroke-width="3.5" />
<line x1="239.60" y1="1503.80" x2="259.00" y2="1481.50" stroke="#d8c0c0" stroke-width="3.5" />
<line x1="259.00" y1="1481.50" x2="280.10" y2="1479.30" stroke="#d8c0c0" stroke-width="3.5" />
<line x1="280.10" y1="1479.30" x2="305.70" y2="1483.70" stroke="#d8c0c0" stroke-width="3.5" />
<line x1="305.70" y1="1483.70" x2="333.10" y2="1479.30" stroke="#d8c0c0" stroke-width="3.5" />
<line x1="333.10" y1="1479.30" x2="355.40" y2="1480.40" stroke="#d8c0c0" stroke-width="3.5" />
<line x1="355.40" y1="1480.40" x2="377.00" y2="1500.40" stroke="#d8c0c0" stroke-width="3.5" />
<line x1="377.00" y1="1500.40" x2="382.10" y2="1522.70" stroke="#d8c0c0" stroke-width="3.5" />
<circle cx="233.40" cy="1527.20" r="11.70" fill="url(#gH)" />
<circle cx="239.60" cy="1503.80" r="11.70" fill="url(#gH)" />
<circle cx="259.00" cy="1481.50" r="11.70" fill="url(#gH)" />
<circle cx="280.10" cy="1479.30" r="11.70" fill="url(#gH)" />
<circle cx="305.70" cy="1483.70" r="11.70" fill="url(#gH)" />
<circle cx="333.10" cy="1479.30" r="11.70" fill="url(#gH)" />
<circle cx="355.40" cy="1480.40" r="11.70" fill="url(#gH)" />
<circle cx="377.00" cy="1500.40" r="11.70" fill="url(#gH)" />
<circle cx="382.10" cy="1522.70" r="11.70" fill="url(#gH)" />
<text x="279.0" y="1378.8" font-size="30" text-anchor="start" fill="#231f20" font-weight="normal" >O3</text>
<text x="445.0" y="1367.8" font-size="30" text-anchor="start" fill="#231f20" font-weight="normal" >Ni</text>
<text x="97.0" y="1534.8" font-size="30" text-anchor="start" fill="#231f20" font-weight="normal" >O2</text>
<text x="477.0" y="1523.1" font-size="30" text-anchor="start" fill="#231f20" font-weight="normal" >O2</text>
<text x="441.6" y="1623.2" font-size="30" text-anchor="start" fill="#ffffff" font-weight="normal" >Co</text>
<text x="284.0" y="1688.8" font-size="30" text-anchor="start" fill="#231f20" font-weight="normal" >O3</text>
<text x="248.4" y="1544.8" font-size="30" text-anchor="start" fill="#231f20" font-weight="normal" >H<tspan font-size="20" dy="-11.8">+</tspan></text>
<text x="1.5" y="1282.6" font-size="42" text-anchor="start" fill="#231f20" font-weight="bold" >c</text>
</svg></body></html>
